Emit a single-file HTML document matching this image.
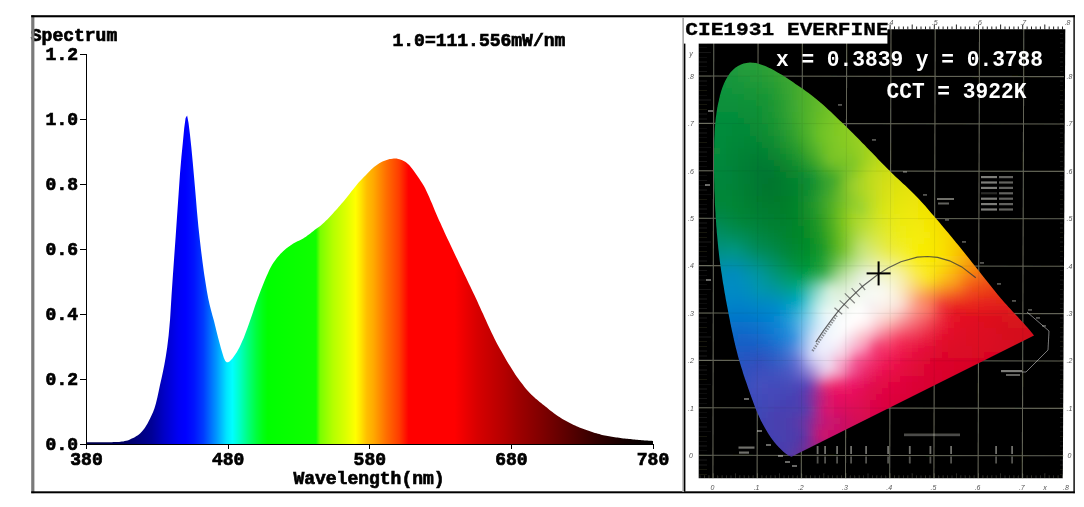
<!DOCTYPE html>
<html><head><meta charset="utf-8"><title>Spectrum</title>
<style>
html,body{margin:0;padding:0;background:#fff;}
body{width:1084px;height:507px;overflow:hidden;position:relative;font-family:"Liberation Mono",monospace;}
svg{position:absolute;left:0;top:0;}
.lbl text{font-family:"Liberation Mono",monospace;font-weight:bold;font-size:18px;fill:#000;stroke:#000;stroke-width:0.7px;}
.ax rect{fill:#000;shape-rendering:crispEdges;}
</style></head><body>
<svg width="1084" height="507" viewBox="0 0 1084 507">
<defs><linearGradient id="sp" gradientUnits="userSpaceOnUse" x1="86.5" y1="0" x2="653.0" y2="0"><stop offset="0.0000" stop-color="#000046"/><stop offset="0.0675" stop-color="#000064"/><stop offset="0.1150" stop-color="#000096"/><stop offset="0.1375" stop-color="#0000c8"/><stop offset="0.1625" stop-color="#0000f5"/><stop offset="0.1750" stop-color="#0000ff"/><stop offset="0.1900" stop-color="#0014ff"/><stop offset="0.2065" stop-color="#003cff"/><stop offset="0.2292" stop-color="#0096ff"/><stop offset="0.2475" stop-color="#00e6ff"/><stop offset="0.2575" stop-color="#00ffff"/><stop offset="0.2700" stop-color="#00ffc8"/><stop offset="0.2842" stop-color="#00ff82"/><stop offset="0.3000" stop-color="#00ff3c"/><stop offset="0.3115" stop-color="#00ff14"/><stop offset="0.3200" stop-color="#00ff00"/><stop offset="0.4050" stop-color="#10ff00"/><stop offset="0.4125" stop-color="#78ff00"/><stop offset="0.4350" stop-color="#b4ff00"/><stop offset="0.4575" stop-color="#dcff00"/><stop offset="0.4750" stop-color="#ffff00"/><stop offset="0.4835" stop-color="#ffe600"/><stop offset="0.4950" stop-color="#ffbe00"/><stop offset="0.5062" stop-color="#ffaa00"/><stop offset="0.5293" stop-color="#ff6e00"/><stop offset="0.5520" stop-color="#ff3c00"/><stop offset="0.5687" stop-color="#ff0000"/><stop offset="0.6500" stop-color="#ff0000"/><stop offset="0.6900" stop-color="#d70000"/><stop offset="0.7375" stop-color="#b40000"/><stop offset="0.7600" stop-color="#a00000"/><stop offset="0.8000" stop-color="#820000"/><stop offset="0.8500" stop-color="#5a0000"/><stop offset="0.9000" stop-color="#320000"/><stop offset="0.9500" stop-color="#140000"/><stop offset="1.0000" stop-color="#000000"/></linearGradient></defs>
<rect x="0" y="0" width="1084" height="507" fill="#fff"/>

<defs>
<clipPath id="hs"><path d="M791.5 456.8 L788.5 455.5 L785.9 453.8 L783.4 451.8 L781.1 449.6 L778.8 447.3 L776.7 445.0 L774.6 442.5 L772.7 440.0 L770.8 437.4 L769.0 434.8 L767.3 432.1 L765.7 429.3 L764.1 426.5 L762.6 423.7 L761.1 420.9 L759.7 418.0 L758.4 415.1 L757.1 412.2 L755.9 409.3 L754.7 406.3 L753.6 403.3 L752.5 400.3 L751.4 397.3 L750.3 394.3 L749.3 391.3 L748.2 388.3 L747.2 385.3 L746.2 382.3 L745.1 379.2 L744.1 376.2 L743.1 373.2 L742.2 370.1 L741.2 367.1 L740.3 364.0 L739.4 361.0 L738.5 357.9 L737.7 354.9 L736.9 351.8 L736.1 348.7 L735.3 345.6 L734.6 342.5 L733.9 339.4 L733.2 336.3 L732.5 333.1 L731.8 330.0 L731.2 326.9 L730.5 323.8 L729.9 320.6 L729.3 317.5 L728.7 314.4 L728.1 311.2 L727.5 308.1 L726.9 305.0 L726.3 301.8 L725.7 298.7 L725.2 295.6 L724.6 292.4 L724.1 289.3 L723.6 286.1 L723.0 283.0 L722.5 279.8 L722.1 276.7 L721.6 273.5 L721.1 270.4 L720.7 267.2 L720.2 264.1 L719.8 260.9 L719.4 257.7 L719.0 254.6 L718.7 251.4 L718.3 248.2 L718.0 245.1 L717.7 241.9 L717.4 238.7 L717.1 235.5 L716.8 232.4 L716.6 229.2 L716.3 226.0 L716.1 222.8 L715.9 219.6 L715.6 216.4 L715.5 213.3 L715.3 210.1 L715.1 206.9 L714.9 203.7 L714.8 200.5 L714.7 197.3 L714.6 194.1 L714.4 191.0 L714.3 187.8 L714.3 184.6 L714.2 181.4 L714.1 178.2 L714.1 175.0 L714.0 171.8 L714.0 168.6 L714.0 165.5 L714.0 162.3 L714.0 159.1 L714.0 155.9 L714.1 152.7 L714.1 149.5 L714.2 146.3 L714.2 143.1 L714.3 139.9 L714.4 136.7 L714.6 133.5 L714.7 130.4 L714.9 127.2 L715.2 124.0 L715.5 120.8 L715.8 117.7 L716.3 114.5 L716.7 111.3 L717.2 108.2 L717.8 105.1 L718.5 101.9 L719.2 98.8 L719.9 95.7 L720.8 92.6 L721.7 89.6 L722.8 86.6 L724.0 83.6 L725.3 80.7 L726.8 77.9 L728.5 75.2 L730.4 72.6 L732.6 70.3 L735.0 68.1 L737.6 66.3 L740.5 64.8 L743.5 63.6 L746.6 62.9 L749.8 62.6 L752.9 62.7 L756.1 63.1 L759.2 63.9 L762.3 65.0 L765.3 66.1 L768.3 67.4 L771.2 68.8 L774.0 70.3 L776.8 71.9 L779.5 73.5 L782.2 75.1 L784.9 76.8 L787.6 78.6 L790.2 80.3 L792.9 82.1 L795.5 83.9 L798.2 85.7 L800.8 87.5 L803.4 89.3 L806.0 91.2 L808.6 93.1 L811.2 95.0 L813.7 96.9 L816.2 98.9 L818.6 100.9 L821.0 103.0 L823.4 105.1 L825.8 107.3 L828.1 109.4 L830.5 111.6 L832.8 113.8 L835.1 116.0 L837.4 118.2 L839.7 120.4 L842.0 122.6 L844.3 124.8 L846.6 127.1 L848.8 129.3 L851.1 131.6 L853.4 133.8 L855.6 136.1 L857.9 138.3 L860.1 140.6 L862.4 142.9 L864.6 145.1 L866.8 147.4 L869.0 149.7 L871.3 152.0 L873.5 154.3 L875.7 156.6 L877.9 158.9 L880.1 161.2 L882.3 163.4 L884.6 165.7 L886.8 168.0 L889.1 170.2 L891.3 172.5 L893.6 174.7 L895.9 176.9 L898.2 179.1 L900.6 181.3 L902.9 183.5 L905.3 185.6 L907.6 187.8 L909.9 190.0 L912.2 192.2 L914.5 194.5 L916.7 196.7 L918.9 199.0 L921.1 201.4 L923.2 203.7 L925.3 206.1 L927.4 208.5 L929.5 210.9 L931.6 213.4 L933.7 215.8 L935.7 218.2 L937.8 220.6 L939.9 223.1 L941.9 225.5 L944.0 227.9 L946.1 230.4 L948.1 232.8 L950.1 235.3 L952.2 237.7 L954.2 240.2 L956.2 242.7 L958.2 245.1 L960.2 247.6 L962.2 250.1 L964.2 252.6 L966.2 255.1 L968.2 257.6 L970.2 260.1 L972.1 262.6 L974.1 265.1 L976.1 267.6 L978.1 270.1 L980.1 272.6 L982.0 275.1 L984.0 277.6 L986.0 280.1 L988.0 282.6 L990.0 285.1 L992.0 287.6 L994.0 290.1 L996.0 292.5 L998.0 295.0 L1000.1 297.4 L1002.1 299.8 L1004.2 302.2 L1006.3 304.6 L1008.5 307.0 L1010.7 309.3 L1012.8 311.7 L1015.0 314.0 L1017.2 316.3 L1019.4 318.7 L1021.5 321.0 L1023.7 323.3 L1025.8 325.7 L1027.9 328.1 L1030.0 330.5 L1032.0 333.0 L1034.0 335.5Z"/></clipPath>
<filter id="bl" filterUnits="userSpaceOnUse" x="680" y="20" width="400" height="470"><feGaussianBlur stdDeviation="3.4"/></filter>
<filter id="soft" filterUnits="userSpaceOnUse" x="680" y="10" width="400" height="490"><feGaussianBlur stdDeviation="0.75"/></filter>
<filter id="soft2" filterUnits="userSpaceOnUse" x="680" y="10" width="400" height="490"><feGaussianBlur stdDeviation="0.45"/></filter>
<style>#cells rect{width:6.5px;height:6.5px}</style>
</defs>
<g id="cie">
<g filter="url(#soft)">
<path d="M698.7 29.2H1065.3L1062.8 478.3H698.7Z" fill="#000"/>
<g fill="#222"><rect x="699.5" y="26.5" width="1" height="3.0"/><rect x="704.0" y="26.5" width="1" height="3.0"/><rect x="708.4" y="26.5" width="1" height="3.0"/><rect x="712.8" y="24.5" width="1" height="5.0"/><rect x="717.2" y="26.5" width="1" height="3.0"/><rect x="721.6" y="26.5" width="1" height="3.0"/><rect x="726.1" y="26.5" width="1" height="3.0"/><rect x="730.5" y="26.5" width="1" height="3.0"/><rect x="734.9" y="24.5" width="1" height="5.0"/><rect x="739.3" y="26.5" width="1" height="3.0"/><rect x="743.7" y="26.5" width="1" height="3.0"/><rect x="748.2" y="26.5" width="1" height="3.0"/><rect x="752.6" y="26.5" width="1" height="3.0"/><rect x="757.0" y="24.5" width="1" height="5.0"/><rect x="761.4" y="26.5" width="1" height="3.0"/><rect x="765.8" y="26.5" width="1" height="3.0"/><rect x="770.3" y="26.5" width="1" height="3.0"/><rect x="774.7" y="26.5" width="1" height="3.0"/><rect x="779.1" y="24.5" width="1" height="5.0"/><rect x="783.5" y="26.5" width="1" height="3.0"/><rect x="787.9" y="26.5" width="1" height="3.0"/><rect x="792.4" y="26.5" width="1" height="3.0"/><rect x="796.8" y="26.5" width="1" height="3.0"/><rect x="801.2" y="24.5" width="1" height="5.0"/><rect x="805.6" y="26.5" width="1" height="3.0"/><rect x="810.0" y="26.5" width="1" height="3.0"/><rect x="814.5" y="26.5" width="1" height="3.0"/><rect x="818.9" y="26.5" width="1" height="3.0"/><rect x="823.3" y="24.5" width="1" height="5.0"/><rect x="827.7" y="26.5" width="1" height="3.0"/><rect x="832.1" y="26.5" width="1" height="3.0"/><rect x="836.6" y="26.5" width="1" height="3.0"/><rect x="841.0" y="26.5" width="1" height="3.0"/><rect x="845.4" y="24.5" width="1" height="5.0"/><rect x="849.8" y="26.5" width="1" height="3.0"/><rect x="854.2" y="26.5" width="1" height="3.0"/><rect x="858.7" y="26.5" width="1" height="3.0"/><rect x="863.1" y="26.5" width="1" height="3.0"/><rect x="867.5" y="24.5" width="1" height="5.0"/><rect x="871.9" y="26.5" width="1" height="3.0"/><rect x="876.3" y="26.5" width="1" height="3.0"/><rect x="880.8" y="26.5" width="1" height="3.0"/><rect x="885.2" y="26.5" width="1" height="3.0"/><rect x="889.6" y="24.5" width="1" height="5.0"/><rect x="894.0" y="26.5" width="1" height="3.0"/><rect x="898.4" y="26.5" width="1" height="3.0"/><rect x="902.9" y="26.5" width="1" height="3.0"/><rect x="907.3" y="26.5" width="1" height="3.0"/><rect x="911.7" y="24.5" width="1" height="5.0"/><rect x="916.1" y="26.5" width="1" height="3.0"/><rect x="920.5" y="26.5" width="1" height="3.0"/><rect x="925.0" y="26.5" width="1" height="3.0"/><rect x="929.4" y="26.5" width="1" height="3.0"/><rect x="933.8" y="24.5" width="1" height="5.0"/><rect x="938.2" y="26.5" width="1" height="3.0"/><rect x="942.6" y="26.5" width="1" height="3.0"/><rect x="947.1" y="26.5" width="1" height="3.0"/><rect x="951.5" y="26.5" width="1" height="3.0"/><rect x="955.9" y="24.5" width="1" height="5.0"/><rect x="960.3" y="26.5" width="1" height="3.0"/><rect x="964.7" y="26.5" width="1" height="3.0"/><rect x="969.2" y="26.5" width="1" height="3.0"/><rect x="973.6" y="26.5" width="1" height="3.0"/><rect x="978.0" y="24.5" width="1" height="5.0"/><rect x="982.4" y="26.5" width="1" height="3.0"/><rect x="986.8" y="26.5" width="1" height="3.0"/><rect x="991.3" y="26.5" width="1" height="3.0"/><rect x="995.7" y="26.5" width="1" height="3.0"/><rect x="1000.1" y="24.5" width="1" height="5.0"/><rect x="1004.5" y="26.5" width="1" height="3.0"/><rect x="1008.9" y="26.5" width="1" height="3.0"/><rect x="1013.4" y="26.5" width="1" height="3.0"/><rect x="1017.8" y="26.5" width="1" height="3.0"/><rect x="1022.2" y="24.5" width="1" height="5.0"/><rect x="1026.6" y="26.5" width="1" height="3.0"/><rect x="1031.0" y="26.5" width="1" height="3.0"/><rect x="1035.5" y="26.5" width="1" height="3.0"/><rect x="1039.9" y="26.5" width="1" height="3.0"/><rect x="1044.3" y="24.5" width="1" height="5.0"/><rect x="1048.7" y="26.5" width="1" height="3.0"/><rect x="1053.1" y="26.5" width="1" height="3.0"/><rect x="1057.6" y="26.5" width="1" height="3.0"/><rect x="1062.0" y="26.5" width="1" height="3.0"/></g>
<g fill="#d8dcc4" opacity="0.22"><rect x="699.5" y="475.3" width="1" height="3.0"/><rect x="704.0" y="475.3" width="1" height="3.0"/><rect x="708.4" y="475.3" width="1" height="3.0"/><rect x="712.8" y="473.3" width="1" height="5.0"/><rect x="717.2" y="475.3" width="1" height="3.0"/><rect x="721.6" y="475.3" width="1" height="3.0"/><rect x="726.1" y="475.3" width="1" height="3.0"/><rect x="730.5" y="475.3" width="1" height="3.0"/><rect x="734.9" y="473.3" width="1" height="5.0"/><rect x="739.3" y="475.3" width="1" height="3.0"/><rect x="743.7" y="475.3" width="1" height="3.0"/><rect x="748.2" y="475.3" width="1" height="3.0"/><rect x="752.6" y="475.3" width="1" height="3.0"/><rect x="757.0" y="473.3" width="1" height="5.0"/><rect x="761.4" y="475.3" width="1" height="3.0"/><rect x="765.8" y="475.3" width="1" height="3.0"/><rect x="770.3" y="475.3" width="1" height="3.0"/><rect x="774.7" y="475.3" width="1" height="3.0"/><rect x="779.1" y="473.3" width="1" height="5.0"/><rect x="783.5" y="475.3" width="1" height="3.0"/><rect x="787.9" y="475.3" width="1" height="3.0"/><rect x="792.4" y="475.3" width="1" height="3.0"/><rect x="796.8" y="475.3" width="1" height="3.0"/><rect x="801.2" y="473.3" width="1" height="5.0"/><rect x="805.6" y="475.3" width="1" height="3.0"/><rect x="810.0" y="475.3" width="1" height="3.0"/><rect x="814.5" y="475.3" width="1" height="3.0"/><rect x="818.9" y="475.3" width="1" height="3.0"/><rect x="823.3" y="473.3" width="1" height="5.0"/><rect x="827.7" y="475.3" width="1" height="3.0"/><rect x="832.1" y="475.3" width="1" height="3.0"/><rect x="836.6" y="475.3" width="1" height="3.0"/><rect x="841.0" y="475.3" width="1" height="3.0"/><rect x="845.4" y="473.3" width="1" height="5.0"/><rect x="849.8" y="475.3" width="1" height="3.0"/><rect x="854.2" y="475.3" width="1" height="3.0"/><rect x="858.7" y="475.3" width="1" height="3.0"/><rect x="863.1" y="475.3" width="1" height="3.0"/><rect x="867.5" y="473.3" width="1" height="5.0"/><rect x="871.9" y="475.3" width="1" height="3.0"/><rect x="876.3" y="475.3" width="1" height="3.0"/><rect x="880.8" y="475.3" width="1" height="3.0"/><rect x="885.2" y="475.3" width="1" height="3.0"/><rect x="889.6" y="473.3" width="1" height="5.0"/><rect x="894.0" y="475.3" width="1" height="3.0"/><rect x="898.4" y="475.3" width="1" height="3.0"/><rect x="902.9" y="475.3" width="1" height="3.0"/><rect x="907.3" y="475.3" width="1" height="3.0"/><rect x="911.7" y="473.3" width="1" height="5.0"/><rect x="916.1" y="475.3" width="1" height="3.0"/><rect x="920.5" y="475.3" width="1" height="3.0"/><rect x="925.0" y="475.3" width="1" height="3.0"/><rect x="929.4" y="475.3" width="1" height="3.0"/><rect x="933.8" y="473.3" width="1" height="5.0"/><rect x="938.2" y="475.3" width="1" height="3.0"/><rect x="942.6" y="475.3" width="1" height="3.0"/><rect x="947.1" y="475.3" width="1" height="3.0"/><rect x="951.5" y="475.3" width="1" height="3.0"/><rect x="955.9" y="473.3" width="1" height="5.0"/><rect x="960.3" y="475.3" width="1" height="3.0"/><rect x="964.7" y="475.3" width="1" height="3.0"/><rect x="969.2" y="475.3" width="1" height="3.0"/><rect x="973.6" y="475.3" width="1" height="3.0"/><rect x="978.0" y="473.3" width="1" height="5.0"/><rect x="982.4" y="475.3" width="1" height="3.0"/><rect x="986.8" y="475.3" width="1" height="3.0"/><rect x="991.3" y="475.3" width="1" height="3.0"/><rect x="995.7" y="475.3" width="1" height="3.0"/><rect x="1000.1" y="473.3" width="1" height="5.0"/><rect x="1004.5" y="475.3" width="1" height="3.0"/><rect x="1008.9" y="475.3" width="1" height="3.0"/><rect x="1013.4" y="475.3" width="1" height="3.0"/><rect x="1017.8" y="475.3" width="1" height="3.0"/><rect x="1022.2" y="473.3" width="1" height="5.0"/><rect x="1026.6" y="475.3" width="1" height="3.0"/><rect x="1031.0" y="475.3" width="1" height="3.0"/><rect x="1035.5" y="475.3" width="1" height="3.0"/><rect x="1039.9" y="475.3" width="1" height="3.0"/><rect x="1044.3" y="473.3" width="1" height="5.0"/><rect x="1048.7" y="475.3" width="1" height="3.0"/><rect x="1053.1" y="475.3" width="1" height="3.0"/><rect x="1057.6" y="475.3" width="1" height="3.0"/><rect x="1062.0" y="475.3" width="1" height="3.0"/><rect x="699" y="473.9" width="8" height="1" opacity="0.45"/><rect x="1060" y="473.9" width="3" height="1" opacity="0.45"/><rect x="699" y="469.1" width="8" height="1" opacity="0.45"/><rect x="1060" y="469.1" width="3" height="1" opacity="0.45"/><rect x="699" y="464.4" width="8" height="1" opacity="0.45"/><rect x="1060" y="464.4" width="3" height="1" opacity="0.45"/><rect x="699" y="459.6" width="8" height="1" opacity="0.45"/><rect x="1060" y="459.6" width="3" height="1" opacity="0.45"/><rect x="699" y="454.9" width="12" height="1" opacity="0.45"/><rect x="1060" y="454.9" width="3" height="1" opacity="0.45"/><rect x="699" y="450.2" width="8" height="1" opacity="0.45"/><rect x="1060" y="450.2" width="3" height="1" opacity="0.45"/><rect x="699" y="445.4" width="8" height="1" opacity="0.45"/><rect x="1060" y="445.4" width="3" height="1" opacity="0.45"/><rect x="699" y="440.7" width="8" height="1" opacity="0.45"/><rect x="1060" y="440.7" width="3" height="1" opacity="0.45"/><rect x="699" y="435.9" width="8" height="1" opacity="0.45"/><rect x="1060" y="435.9" width="3" height="1" opacity="0.45"/><rect x="699" y="431.2" width="12" height="1" opacity="0.45"/><rect x="1060" y="431.2" width="3" height="1" opacity="0.45"/><rect x="699" y="426.5" width="8" height="1" opacity="0.45"/><rect x="1060" y="426.5" width="3" height="1" opacity="0.45"/><rect x="699" y="421.7" width="8" height="1" opacity="0.45"/><rect x="1060" y="421.7" width="3" height="1" opacity="0.45"/><rect x="699" y="417.0" width="8" height="1" opacity="0.45"/><rect x="1060" y="417.0" width="3" height="1" opacity="0.45"/><rect x="699" y="412.2" width="8" height="1" opacity="0.45"/><rect x="1060" y="412.2" width="3" height="1" opacity="0.45"/><rect x="699" y="407.5" width="12" height="1" opacity="0.45"/><rect x="1060" y="407.5" width="3" height="1" opacity="0.45"/><rect x="699" y="402.8" width="8" height="1" opacity="0.45"/><rect x="1060" y="402.8" width="3" height="1" opacity="0.45"/><rect x="699" y="398.0" width="8" height="1" opacity="0.45"/><rect x="1060" y="398.0" width="3" height="1" opacity="0.45"/><rect x="699" y="393.3" width="8" height="1" opacity="0.45"/><rect x="1060" y="393.3" width="3" height="1" opacity="0.45"/><rect x="699" y="388.5" width="8" height="1" opacity="0.45"/><rect x="1060" y="388.5" width="3" height="1" opacity="0.45"/><rect x="699" y="383.8" width="12" height="1" opacity="0.45"/><rect x="1060" y="383.8" width="3" height="1" opacity="0.45"/><rect x="699" y="379.1" width="8" height="1" opacity="0.45"/><rect x="1060" y="379.1" width="3" height="1" opacity="0.45"/><rect x="699" y="374.3" width="8" height="1" opacity="0.45"/><rect x="1060" y="374.3" width="3" height="1" opacity="0.45"/><rect x="699" y="369.6" width="8" height="1" opacity="0.45"/><rect x="1060" y="369.6" width="3" height="1" opacity="0.45"/><rect x="699" y="364.8" width="8" height="1" opacity="0.45"/><rect x="1060" y="364.8" width="3" height="1" opacity="0.45"/><rect x="699" y="360.1" width="12" height="1" opacity="0.45"/><rect x="1060" y="360.1" width="3" height="1" opacity="0.45"/><rect x="699" y="355.4" width="8" height="1" opacity="0.45"/><rect x="1060" y="355.4" width="3" height="1" opacity="0.45"/><rect x="699" y="350.6" width="8" height="1" opacity="0.45"/><rect x="1060" y="350.6" width="3" height="1" opacity="0.45"/><rect x="699" y="345.9" width="8" height="1" opacity="0.45"/><rect x="1060" y="345.9" width="3" height="1" opacity="0.45"/><rect x="699" y="341.1" width="8" height="1" opacity="0.45"/><rect x="1060" y="341.1" width="3" height="1" opacity="0.45"/><rect x="699" y="336.4" width="12" height="1" opacity="0.45"/><rect x="1060" y="336.4" width="3" height="1" opacity="0.45"/><rect x="699" y="331.7" width="8" height="1" opacity="0.45"/><rect x="1060" y="331.7" width="3" height="1" opacity="0.45"/><rect x="699" y="326.9" width="8" height="1" opacity="0.45"/><rect x="1060" y="326.9" width="3" height="1" opacity="0.45"/><rect x="699" y="322.2" width="8" height="1" opacity="0.45"/><rect x="1060" y="322.2" width="3" height="1" opacity="0.45"/><rect x="699" y="317.4" width="8" height="1" opacity="0.45"/><rect x="1060" y="317.4" width="3" height="1" opacity="0.45"/><rect x="699" y="312.7" width="12" height="1" opacity="0.45"/><rect x="1060" y="312.7" width="3" height="1" opacity="0.45"/><rect x="699" y="308.0" width="8" height="1" opacity="0.45"/><rect x="1060" y="308.0" width="3" height="1" opacity="0.45"/><rect x="699" y="303.2" width="8" height="1" opacity="0.45"/><rect x="1060" y="303.2" width="3" height="1" opacity="0.45"/><rect x="699" y="298.5" width="8" height="1" opacity="0.45"/><rect x="1060" y="298.5" width="3" height="1" opacity="0.45"/><rect x="699" y="293.7" width="8" height="1" opacity="0.45"/><rect x="1060" y="293.7" width="3" height="1" opacity="0.45"/><rect x="699" y="289.0" width="12" height="1" opacity="0.45"/><rect x="1060" y="289.0" width="3" height="1" opacity="0.45"/><rect x="699" y="284.3" width="8" height="1" opacity="0.45"/><rect x="1060" y="284.3" width="3" height="1" opacity="0.45"/><rect x="699" y="279.5" width="8" height="1" opacity="0.45"/><rect x="1060" y="279.5" width="3" height="1" opacity="0.45"/><rect x="699" y="274.8" width="8" height="1" opacity="0.45"/><rect x="1060" y="274.8" width="3" height="1" opacity="0.45"/><rect x="699" y="270.0" width="8" height="1" opacity="0.45"/><rect x="1060" y="270.0" width="3" height="1" opacity="0.45"/><rect x="699" y="265.3" width="12" height="1" opacity="0.45"/><rect x="1060" y="265.3" width="3" height="1" opacity="0.45"/><rect x="699" y="260.6" width="8" height="1" opacity="0.45"/><rect x="1060" y="260.6" width="3" height="1" opacity="0.45"/><rect x="699" y="255.8" width="8" height="1" opacity="0.45"/><rect x="1060" y="255.8" width="3" height="1" opacity="0.45"/><rect x="699" y="251.1" width="8" height="1" opacity="0.45"/><rect x="1060" y="251.1" width="3" height="1" opacity="0.45"/><rect x="699" y="246.3" width="8" height="1" opacity="0.45"/><rect x="1060" y="246.3" width="3" height="1" opacity="0.45"/><rect x="699" y="241.6" width="12" height="1" opacity="0.45"/><rect x="1060" y="241.6" width="3" height="1" opacity="0.45"/><rect x="699" y="236.9" width="8" height="1" opacity="0.45"/><rect x="1060" y="236.9" width="3" height="1" opacity="0.45"/><rect x="699" y="232.1" width="8" height="1" opacity="0.45"/><rect x="1060" y="232.1" width="3" height="1" opacity="0.45"/><rect x="699" y="227.4" width="8" height="1" opacity="0.45"/><rect x="1060" y="227.4" width="3" height="1" opacity="0.45"/><rect x="699" y="222.6" width="8" height="1" opacity="0.45"/><rect x="1060" y="222.6" width="3" height="1" opacity="0.45"/><rect x="699" y="217.9" width="12" height="1" opacity="0.45"/><rect x="1060" y="217.9" width="3" height="1" opacity="0.45"/><rect x="699" y="213.2" width="8" height="1" opacity="0.45"/><rect x="1060" y="213.2" width="3" height="1" opacity="0.45"/><rect x="699" y="208.4" width="8" height="1" opacity="0.45"/><rect x="1060" y="208.4" width="3" height="1" opacity="0.45"/><rect x="699" y="203.7" width="8" height="1" opacity="0.45"/><rect x="1060" y="203.7" width="3" height="1" opacity="0.45"/><rect x="699" y="198.9" width="8" height="1" opacity="0.45"/><rect x="1060" y="198.9" width="3" height="1" opacity="0.45"/><rect x="699" y="194.2" width="12" height="1" opacity="0.45"/><rect x="1060" y="194.2" width="3" height="1" opacity="0.45"/><rect x="699" y="189.5" width="8" height="1" opacity="0.45"/><rect x="1060" y="189.5" width="3" height="1" opacity="0.45"/><rect x="699" y="184.7" width="8" height="1" opacity="0.45"/><rect x="1060" y="184.7" width="3" height="1" opacity="0.45"/><rect x="699" y="180.0" width="8" height="1" opacity="0.45"/><rect x="1060" y="180.0" width="3" height="1" opacity="0.45"/><rect x="699" y="175.2" width="8" height="1" opacity="0.45"/><rect x="1060" y="175.2" width="3" height="1" opacity="0.45"/><rect x="699" y="170.5" width="12" height="1" opacity="0.45"/><rect x="1060" y="170.5" width="3" height="1" opacity="0.45"/><rect x="699" y="165.8" width="8" height="1" opacity="0.45"/><rect x="1060" y="165.8" width="3" height="1" opacity="0.45"/><rect x="699" y="161.0" width="8" height="1" opacity="0.45"/><rect x="1060" y="161.0" width="3" height="1" opacity="0.45"/><rect x="699" y="156.3" width="8" height="1" opacity="0.45"/><rect x="1060" y="156.3" width="3" height="1" opacity="0.45"/><rect x="699" y="151.5" width="8" height="1" opacity="0.45"/><rect x="1060" y="151.5" width="3" height="1" opacity="0.45"/><rect x="699" y="146.8" width="12" height="1" opacity="0.45"/><rect x="1060" y="146.8" width="3" height="1" opacity="0.45"/><rect x="699" y="142.1" width="8" height="1" opacity="0.45"/><rect x="1060" y="142.1" width="3" height="1" opacity="0.45"/><rect x="699" y="137.3" width="8" height="1" opacity="0.45"/><rect x="1060" y="137.3" width="3" height="1" opacity="0.45"/><rect x="699" y="132.6" width="8" height="1" opacity="0.45"/><rect x="1060" y="132.6" width="3" height="1" opacity="0.45"/><rect x="699" y="127.8" width="8" height="1" opacity="0.45"/><rect x="1060" y="127.8" width="3" height="1" opacity="0.45"/><rect x="699" y="123.1" width="12" height="1" opacity="0.45"/><rect x="1060" y="123.1" width="3" height="1" opacity="0.45"/><rect x="699" y="118.4" width="8" height="1" opacity="0.45"/><rect x="1060" y="118.4" width="3" height="1" opacity="0.45"/><rect x="699" y="113.6" width="8" height="1" opacity="0.45"/><rect x="1060" y="113.6" width="3" height="1" opacity="0.45"/><rect x="699" y="108.9" width="8" height="1" opacity="0.45"/><rect x="1060" y="108.9" width="3" height="1" opacity="0.45"/><rect x="699" y="104.1" width="8" height="1" opacity="0.45"/><rect x="1060" y="104.1" width="3" height="1" opacity="0.45"/><rect x="699" y="99.4" width="12" height="1" opacity="0.45"/><rect x="1060" y="99.4" width="3" height="1" opacity="0.45"/><rect x="699" y="94.7" width="8" height="1" opacity="0.45"/><rect x="1060" y="94.7" width="3" height="1" opacity="0.45"/><rect x="699" y="89.9" width="8" height="1" opacity="0.45"/><rect x="1060" y="89.9" width="3" height="1" opacity="0.45"/><rect x="699" y="85.2" width="8" height="1" opacity="0.45"/><rect x="1060" y="85.2" width="3" height="1" opacity="0.45"/><rect x="699" y="80.4" width="8" height="1" opacity="0.45"/><rect x="1060" y="80.4" width="3" height="1" opacity="0.45"/><rect x="699" y="75.7" width="12" height="1" opacity="0.45"/><rect x="1060" y="75.7" width="3" height="1" opacity="0.45"/><rect x="699" y="71.0" width="8" height="1" opacity="0.45"/><rect x="1060" y="71.0" width="3" height="1" opacity="0.45"/><rect x="699" y="66.2" width="8" height="1" opacity="0.45"/><rect x="1060" y="66.2" width="3" height="1" opacity="0.45"/><rect x="699" y="61.5" width="8" height="1" opacity="0.45"/><rect x="1060" y="61.5" width="3" height="1" opacity="0.45"/><rect x="699" y="56.7" width="8" height="1" opacity="0.45"/><rect x="1060" y="56.7" width="3" height="1" opacity="0.45"/><rect x="699" y="52.0" width="12" height="1" opacity="0.45"/><rect x="1060" y="52.0" width="3" height="1" opacity="0.45"/><rect x="699" y="47.3" width="8" height="1" opacity="0.45"/><rect x="1060" y="47.3" width="3" height="1" opacity="0.45"/><rect x="699" y="42.5" width="8" height="1" opacity="0.45"/><rect x="1060" y="42.5" width="3" height="1" opacity="0.45"/><rect x="699" y="37.8" width="8" height="1" opacity="0.45"/><rect x="1060" y="37.8" width="3" height="1" opacity="0.45"/><rect x="699" y="33.0" width="8" height="1" opacity="0.45"/><rect x="1060" y="33.0" width="3" height="1" opacity="0.45"/></g>
<g stroke="#c4c8ac" stroke-width="1.1" opacity="0.5"><line x1="713.8" y1="29" x2="712.9" y2="478.3"/><line x1="758.1" y1="29" x2="757.1" y2="478.3"/><line x1="802.4" y1="29" x2="801.3" y2="478.3"/><line x1="846.7" y1="29" x2="845.5" y2="478.3"/><line x1="891.0" y1="29" x2="889.7" y2="478.3"/><line x1="935.2" y1="29" x2="933.9" y2="478.3"/><line x1="979.5" y1="29" x2="978.1" y2="478.3"/><line x1="1023.8" y1="29" x2="1022.3" y2="478.3"/><line x1="698.7" y1="455.2" x2="1064" y2="455.8"/><line x1="698.7" y1="407.8" x2="1064" y2="408.4"/><line x1="698.7" y1="360.4" x2="1064" y2="361.0"/><line x1="698.7" y1="313.0" x2="1064" y2="313.6"/><line x1="698.7" y1="265.6" x2="1064" y2="266.2"/><line x1="698.7" y1="218.2" x2="1064" y2="218.8"/><line x1="698.7" y1="170.8" x2="1064" y2="171.4"/><line x1="698.7" y1="123.4" x2="1064" y2="124.0"/><line x1="698.7" y1="76.0" x2="1064" y2="76.6"/></g>
<g filter="url(#soft)"><g clip-path="url(#hs)"><g id="cells" filter="url(#bl)"><rect x="726" y="52" fill="#1f9b3e"/><rect x="732" y="52" fill="#229c3d"/><rect x="738" y="52" fill="#259d3c"/><rect x="744" y="52" fill="#279e3c"/><rect x="750" y="52" fill="#2a9e3a"/><rect x="756" y="52" fill="#2ca039"/><rect x="762" y="52" fill="#30a137"/><rect x="768" y="52" fill="#33a336"/><rect x="774" y="52" fill="#38a434"/><rect x="720" y="58" fill="#1b993e"/><rect x="726" y="58" fill="#1e9a3d"/><rect x="732" y="58" fill="#219b3d"/><rect x="738" y="58" fill="#259d3c"/><rect x="744" y="58" fill="#289e3b"/><rect x="750" y="58" fill="#299e3a"/><rect x="756" y="58" fill="#2b9f39"/><rect x="762" y="58" fill="#2ea037"/><rect x="768" y="58" fill="#32a236"/><rect x="774" y="58" fill="#36a434"/><rect x="780" y="58" fill="#3ba632"/><rect x="786" y="58" fill="#40a831"/><rect x="714" y="64" fill="#17973e"/><rect x="720" y="64" fill="#19983e"/><rect x="726" y="64" fill="#1c993d"/><rect x="732" y="64" fill="#1f9a3c"/><rect x="738" y="64" fill="#239c3c"/><rect x="744" y="64" fill="#269d3b"/><rect x="750" y="64" fill="#279d3a"/><rect x="756" y="64" fill="#299e38"/><rect x="762" y="64" fill="#2c9f37"/><rect x="768" y="64" fill="#30a135"/><rect x="774" y="64" fill="#34a334"/><rect x="780" y="64" fill="#39a532"/><rect x="786" y="64" fill="#3fa831"/><rect x="792" y="64" fill="#44aa2f"/><rect x="714" y="70" fill="#15963e"/><rect x="720" y="70" fill="#17973d"/><rect x="726" y="70" fill="#1a983d"/><rect x="732" y="70" fill="#1d993c"/><rect x="738" y="70" fill="#209a3b"/><rect x="744" y="70" fill="#229b3a"/><rect x="750" y="70" fill="#249c39"/><rect x="756" y="70" fill="#269d38"/><rect x="762" y="70" fill="#299e36"/><rect x="768" y="70" fill="#2da035"/><rect x="774" y="70" fill="#32a234"/><rect x="780" y="70" fill="#37a432"/><rect x="786" y="70" fill="#3da731"/><rect x="792" y="70" fill="#43aa2f"/><rect x="798" y="70" fill="#4aad2e"/><rect x="804" y="70" fill="#51b02c"/><rect x="708" y="76" fill="#10953f"/><rect x="714" y="76" fill="#12953e"/><rect x="720" y="76" fill="#14963d"/><rect x="726" y="76" fill="#16963c"/><rect x="732" y="76" fill="#19973b"/><rect x="738" y="76" fill="#1c983b"/><rect x="744" y="76" fill="#1e993a"/><rect x="750" y="76" fill="#209a39"/><rect x="756" y="76" fill="#229b37"/><rect x="762" y="76" fill="#269c36"/><rect x="768" y="76" fill="#2a9e35"/><rect x="774" y="76" fill="#2fa133"/><rect x="780" y="76" fill="#35a332"/><rect x="786" y="76" fill="#3ba631"/><rect x="792" y="76" fill="#42aa2f"/><rect x="798" y="76" fill="#49ad2e"/><rect x="804" y="76" fill="#50b02c"/><rect x="810" y="76" fill="#57b32a"/><rect x="708" y="82" fill="#0e933e"/><rect x="714" y="82" fill="#10943d"/><rect x="720" y="82" fill="#11943c"/><rect x="726" y="82" fill="#13953c"/><rect x="732" y="82" fill="#15953b"/><rect x="738" y="82" fill="#17963a"/><rect x="744" y="82" fill="#1a9739"/><rect x="750" y="82" fill="#1c9838"/><rect x="756" y="82" fill="#1e9937"/><rect x="762" y="82" fill="#219a36"/><rect x="768" y="82" fill="#269c34"/><rect x="774" y="82" fill="#2b9f33"/><rect x="780" y="82" fill="#32a232"/><rect x="786" y="82" fill="#39a631"/><rect x="792" y="82" fill="#41a92f"/><rect x="798" y="82" fill="#49ad2e"/><rect x="804" y="82" fill="#50b02c"/><rect x="810" y="82" fill="#58b42a"/><rect x="816" y="82" fill="#5fb729"/><rect x="822" y="82" fill="#66ba27"/><rect x="708" y="88" fill="#0c923e"/><rect x="714" y="88" fill="#0d923d"/><rect x="720" y="88" fill="#0e933c"/><rect x="726" y="88" fill="#10933b"/><rect x="732" y="88" fill="#12943a"/><rect x="738" y="88" fill="#13943a"/><rect x="744" y="88" fill="#159539"/><rect x="750" y="88" fill="#179638"/><rect x="756" y="88" fill="#1a9736"/><rect x="762" y="88" fill="#1d9835"/><rect x="768" y="88" fill="#219a34"/><rect x="774" y="88" fill="#289d33"/><rect x="780" y="88" fill="#30a132"/><rect x="786" y="88" fill="#38a531"/><rect x="792" y="88" fill="#40a92f"/><rect x="798" y="88" fill="#48ad2e"/><rect x="804" y="88" fill="#50b12c"/><rect x="810" y="88" fill="#58b42a"/><rect x="816" y="88" fill="#60b829"/><rect x="822" y="88" fill="#67bb27"/><rect x="828" y="88" fill="#6ebe25"/><rect x="708" y="94" fill="#0a913e"/><rect x="714" y="94" fill="#0a913c"/><rect x="720" y="94" fill="#0b913b"/><rect x="726" y="94" fill="#0d923b"/><rect x="732" y="94" fill="#0e923a"/><rect x="738" y="94" fill="#109239"/><rect x="744" y="94" fill="#129338"/><rect x="750" y="94" fill="#149437"/><rect x="756" y="94" fill="#169436"/><rect x="762" y="94" fill="#189635"/><rect x="768" y="94" fill="#1c9834"/><rect x="774" y="94" fill="#259c33"/><rect x="780" y="94" fill="#2da032"/><rect x="786" y="94" fill="#36a431"/><rect x="792" y="94" fill="#3fa92f"/><rect x="798" y="94" fill="#48ad2e"/><rect x="804" y="94" fill="#50b12c"/><rect x="810" y="94" fill="#59b52a"/><rect x="816" y="94" fill="#61b929"/><rect x="822" y="94" fill="#69bc27"/><rect x="828" y="94" fill="#70bf25"/><rect x="834" y="94" fill="#77c123"/><rect x="702" y="100" fill="#08903f"/><rect x="708" y="100" fill="#08903d"/><rect x="714" y="100" fill="#08903c"/><rect x="720" y="100" fill="#09903b"/><rect x="726" y="100" fill="#0a903b"/><rect x="732" y="100" fill="#0b903a"/><rect x="738" y="100" fill="#0d9139"/><rect x="744" y="100" fill="#0e9138"/><rect x="750" y="100" fill="#109237"/><rect x="756" y="100" fill="#139336"/><rect x="762" y="100" fill="#169435"/><rect x="768" y="100" fill="#1a9633"/><rect x="774" y="100" fill="#239a33"/><rect x="780" y="100" fill="#2c9f32"/><rect x="786" y="100" fill="#35a431"/><rect x="792" y="100" fill="#3fa930"/><rect x="798" y="100" fill="#48ad2e"/><rect x="804" y="100" fill="#51b22c"/><rect x="810" y="100" fill="#5ab62a"/><rect x="816" y="100" fill="#62ba29"/><rect x="822" y="100" fill="#6abd27"/><rect x="828" y="100" fill="#71c025"/><rect x="834" y="100" fill="#78c323"/><rect x="840" y="100" fill="#7fc522"/><rect x="702" y="106" fill="#068f3f"/><rect x="708" y="106" fill="#078f3d"/><rect x="714" y="106" fill="#078f3c"/><rect x="720" y="106" fill="#078f3b"/><rect x="726" y="106" fill="#088f3b"/><rect x="732" y="106" fill="#088f3a"/><rect x="738" y="106" fill="#0a8f39"/><rect x="744" y="106" fill="#0b8f38"/><rect x="750" y="106" fill="#0e9037"/><rect x="756" y="106" fill="#119136"/><rect x="762" y="106" fill="#159335"/><rect x="768" y="106" fill="#1a9634"/><rect x="774" y="106" fill="#229a33"/><rect x="780" y="106" fill="#2b9e32"/><rect x="786" y="106" fill="#35a432"/><rect x="792" y="106" fill="#3ea930"/><rect x="798" y="106" fill="#48ad2e"/><rect x="804" y="106" fill="#51b22c"/><rect x="810" y="106" fill="#5ab72a"/><rect x="816" y="106" fill="#63bb29"/><rect x="822" y="106" fill="#6cbf27"/><rect x="828" y="106" fill="#73c225"/><rect x="834" y="106" fill="#7ac423"/><rect x="840" y="106" fill="#81c622"/><rect x="846" y="106" fill="#87c820"/><rect x="702" y="112" fill="#068e3f"/><rect x="708" y="112" fill="#068e3d"/><rect x="714" y="112" fill="#068e3c"/><rect x="720" y="112" fill="#068d3b"/><rect x="726" y="112" fill="#068d3b"/><rect x="732" y="112" fill="#068d3a"/><rect x="738" y="112" fill="#078d39"/><rect x="744" y="112" fill="#098e38"/><rect x="750" y="112" fill="#0c8f37"/><rect x="756" y="112" fill="#0f9035"/><rect x="762" y="112" fill="#149234"/><rect x="768" y="112" fill="#199533"/><rect x="774" y="112" fill="#219933"/><rect x="780" y="112" fill="#2a9d32"/><rect x="786" y="112" fill="#33a331"/><rect x="792" y="112" fill="#3da82f"/><rect x="798" y="112" fill="#47ad2e"/><rect x="804" y="112" fill="#51b32c"/><rect x="810" y="112" fill="#5bb82a"/><rect x="816" y="112" fill="#65bc28"/><rect x="822" y="112" fill="#6ec027"/><rect x="828" y="112" fill="#75c325"/><rect x="834" y="112" fill="#7cc624"/><rect x="840" y="112" fill="#83c822"/><rect x="846" y="112" fill="#89ca20"/><rect x="852" y="112" fill="#8fcb1f"/><rect x="702" y="118" fill="#058e3f"/><rect x="708" y="118" fill="#058d3d"/><rect x="714" y="118" fill="#058d3c"/><rect x="720" y="118" fill="#058c3b"/><rect x="726" y="118" fill="#058c3a"/><rect x="732" y="118" fill="#048c3a"/><rect x="738" y="118" fill="#058b39"/><rect x="744" y="118" fill="#078c38"/><rect x="750" y="118" fill="#0a8d36"/><rect x="756" y="118" fill="#0e8e35"/><rect x="762" y="118" fill="#129134"/><rect x="768" y="118" fill="#189433"/><rect x="774" y="118" fill="#1f9732"/><rect x="780" y="118" fill="#289c31"/><rect x="786" y="118" fill="#31a130"/><rect x="792" y="118" fill="#3ba72f"/><rect x="798" y="118" fill="#46ad2d"/><rect x="804" y="118" fill="#51b32c"/><rect x="810" y="118" fill="#5cb82a"/><rect x="816" y="118" fill="#67be28"/><rect x="822" y="118" fill="#70c227"/><rect x="828" y="118" fill="#77c525"/><rect x="834" y="118" fill="#7ec724"/><rect x="840" y="118" fill="#84c922"/><rect x="846" y="118" fill="#8acb21"/><rect x="852" y="118" fill="#90cc1f"/><rect x="858" y="118" fill="#96ce1d"/><rect x="702" y="124" fill="#058d3f"/><rect x="708" y="124" fill="#058d3d"/><rect x="714" y="124" fill="#058c3c"/><rect x="720" y="124" fill="#048c3b"/><rect x="726" y="124" fill="#048b3a"/><rect x="732" y="124" fill="#048a39"/><rect x="738" y="124" fill="#048a38"/><rect x="744" y="124" fill="#068a37"/><rect x="750" y="124" fill="#098b36"/><rect x="756" y="124" fill="#0c8d35"/><rect x="762" y="124" fill="#118f34"/><rect x="768" y="124" fill="#169233"/><rect x="774" y="124" fill="#1d9632"/><rect x="780" y="124" fill="#259a31"/><rect x="786" y="124" fill="#2f9f30"/><rect x="792" y="124" fill="#39a52e"/><rect x="798" y="124" fill="#44ac2d"/><rect x="804" y="124" fill="#50b22b"/><rect x="810" y="124" fill="#5db92a"/><rect x="816" y="124" fill="#68bf28"/><rect x="822" y="124" fill="#72c327"/><rect x="828" y="124" fill="#79c625"/><rect x="834" y="124" fill="#80c824"/><rect x="840" y="124" fill="#86ca22"/><rect x="846" y="124" fill="#8bcc21"/><rect x="852" y="124" fill="#91cd1f"/><rect x="858" y="124" fill="#97cf1d"/><rect x="864" y="124" fill="#9dd01c"/><rect x="702" y="130" fill="#058d3e"/><rect x="708" y="130" fill="#058c3d"/><rect x="714" y="130" fill="#058c3c"/><rect x="720" y="130" fill="#048b3b"/><rect x="726" y="130" fill="#048a3a"/><rect x="732" y="130" fill="#048939"/><rect x="738" y="130" fill="#048938"/><rect x="744" y="130" fill="#058937"/><rect x="750" y="130" fill="#078935"/><rect x="756" y="130" fill="#0b8a34"/><rect x="762" y="130" fill="#0f8d33"/><rect x="768" y="130" fill="#148f32"/><rect x="774" y="130" fill="#1a9331"/><rect x="780" y="130" fill="#229830"/><rect x="786" y="130" fill="#2b9d2f"/><rect x="792" y="130" fill="#35a32e"/><rect x="798" y="130" fill="#41aa2c"/><rect x="804" y="130" fill="#4eb12b"/><rect x="810" y="130" fill="#5cb929"/><rect x="816" y="130" fill="#6ac128"/><rect x="822" y="130" fill="#73c527"/><rect x="828" y="130" fill="#7ac725"/><rect x="834" y="130" fill="#80c924"/><rect x="840" y="130" fill="#86cb23"/><rect x="846" y="130" fill="#8ccc21"/><rect x="852" y="130" fill="#92ce20"/><rect x="858" y="130" fill="#98cf1e"/><rect x="864" y="130" fill="#9fd11c"/><rect x="870" y="130" fill="#a5d21a"/><rect x="702" y="136" fill="#058c3e"/><rect x="708" y="136" fill="#068c3d"/><rect x="714" y="136" fill="#058b3c"/><rect x="720" y="136" fill="#058a3a"/><rect x="726" y="136" fill="#048939"/><rect x="732" y="136" fill="#038838"/><rect x="738" y="136" fill="#038737"/><rect x="744" y="136" fill="#048736"/><rect x="750" y="136" fill="#068735"/><rect x="756" y="136" fill="#098834"/><rect x="762" y="136" fill="#0c8a33"/><rect x="768" y="136" fill="#118d32"/><rect x="774" y="136" fill="#179031"/><rect x="780" y="136" fill="#1e9530"/><rect x="786" y="136" fill="#279a2f"/><rect x="792" y="136" fill="#31a02d"/><rect x="798" y="136" fill="#3ca72c"/><rect x="804" y="136" fill="#4aaf2b"/><rect x="810" y="136" fill="#59b729"/><rect x="816" y="136" fill="#68bf28"/><rect x="822" y="136" fill="#72c427"/><rect x="828" y="136" fill="#7ac726"/><rect x="834" y="136" fill="#80c925"/><rect x="840" y="136" fill="#86cb23"/><rect x="846" y="136" fill="#8ccc22"/><rect x="852" y="136" fill="#92ce21"/><rect x="858" y="136" fill="#99d01f"/><rect x="864" y="136" fill="#a0d11d"/><rect x="870" y="136" fill="#a7d31a"/><rect x="876" y="136" fill="#aed418"/><rect x="702" y="142" fill="#068c3e"/><rect x="708" y="142" fill="#068c3d"/><rect x="714" y="142" fill="#068b3b"/><rect x="720" y="142" fill="#058a3a"/><rect x="726" y="142" fill="#048839"/><rect x="732" y="142" fill="#038738"/><rect x="738" y="142" fill="#038637"/><rect x="744" y="142" fill="#038536"/><rect x="750" y="142" fill="#048534"/><rect x="756" y="142" fill="#068533"/><rect x="762" y="142" fill="#098732"/><rect x="768" y="142" fill="#0e8931"/><rect x="774" y="142" fill="#138d30"/><rect x="780" y="142" fill="#1a912f"/><rect x="786" y="142" fill="#21962e"/><rect x="792" y="142" fill="#2a9c2d"/><rect x="798" y="142" fill="#36a32c"/><rect x="804" y="142" fill="#44ab2b"/><rect x="810" y="142" fill="#53b32a"/><rect x="816" y="142" fill="#62bb29"/><rect x="822" y="142" fill="#6fc127"/><rect x="828" y="142" fill="#79c526"/><rect x="834" y="142" fill="#80c825"/><rect x="840" y="142" fill="#85ca24"/><rect x="846" y="142" fill="#8acc23"/><rect x="852" y="142" fill="#91cd22"/><rect x="858" y="142" fill="#98d020"/><rect x="864" y="142" fill="#a0d21d"/><rect x="870" y="142" fill="#a9d41b"/><rect x="876" y="142" fill="#b1d518"/><rect x="882" y="142" fill="#b7d616"/><rect x="702" y="148" fill="#058b3e"/><rect x="708" y="148" fill="#078b3d"/><rect x="714" y="148" fill="#078b3b"/><rect x="720" y="148" fill="#05893a"/><rect x="726" y="148" fill="#038739"/><rect x="732" y="148" fill="#028538"/><rect x="738" y="148" fill="#028436"/><rect x="744" y="148" fill="#028335"/><rect x="750" y="148" fill="#028234"/><rect x="756" y="148" fill="#048233"/><rect x="762" y="148" fill="#068332"/><rect x="768" y="148" fill="#0a8631"/><rect x="774" y="148" fill="#0f8930"/><rect x="780" y="148" fill="#158d2f"/><rect x="786" y="148" fill="#1c922e"/><rect x="792" y="148" fill="#24982d"/><rect x="798" y="148" fill="#2e9e2c"/><rect x="804" y="148" fill="#3ca62c"/><rect x="810" y="148" fill="#4caf2a"/><rect x="816" y="148" fill="#5cb729"/><rect x="822" y="148" fill="#6cbf28"/><rect x="828" y="148" fill="#78c427"/><rect x="834" y="148" fill="#7ec726"/><rect x="840" y="148" fill="#83c925"/><rect x="846" y="148" fill="#87ca24"/><rect x="852" y="148" fill="#8ecd23"/><rect x="858" y="148" fill="#97cf21"/><rect x="864" y="148" fill="#a1d21e"/><rect x="870" y="148" fill="#abd41b"/><rect x="876" y="148" fill="#b4d619"/><rect x="882" y="148" fill="#bbd816"/><rect x="888" y="148" fill="#c1d913"/><rect x="702" y="154" fill="#058b3f"/><rect x="708" y="154" fill="#058a3d"/><rect x="714" y="154" fill="#05893b"/><rect x="720" y="154" fill="#04883a"/><rect x="726" y="154" fill="#038639"/><rect x="732" y="154" fill="#018438"/><rect x="738" y="154" fill="#018236"/><rect x="744" y="154" fill="#008135"/><rect x="750" y="154" fill="#007f33"/><rect x="756" y="154" fill="#017e32"/><rect x="762" y="154" fill="#038031"/><rect x="768" y="154" fill="#078230"/><rect x="774" y="154" fill="#0b8530"/><rect x="780" y="154" fill="#10892f"/><rect x="786" y="154" fill="#168e2e"/><rect x="792" y="154" fill="#1d932e"/><rect x="798" y="154" fill="#27992d"/><rect x="804" y="154" fill="#34a12c"/><rect x="810" y="154" fill="#43a92b"/><rect x="816" y="154" fill="#55b22a"/><rect x="822" y="154" fill="#68bc29"/><rect x="828" y="154" fill="#78c327"/><rect x="834" y="154" fill="#7bc527"/><rect x="840" y="154" fill="#7fc727"/><rect x="846" y="154" fill="#83c826"/><rect x="852" y="154" fill="#8acb24"/><rect x="858" y="154" fill="#96cf22"/><rect x="864" y="154" fill="#a2d21f"/><rect x="870" y="154" fill="#aed61c"/><rect x="876" y="154" fill="#b7d819"/><rect x="882" y="154" fill="#bfd916"/><rect x="888" y="154" fill="#c6da13"/><rect x="894" y="154" fill="#cbdb11"/><rect x="702" y="160" fill="#048a3f"/><rect x="708" y="160" fill="#04893d"/><rect x="714" y="160" fill="#04883c"/><rect x="720" y="160" fill="#03873b"/><rect x="726" y="160" fill="#028539"/><rect x="732" y="160" fill="#018338"/><rect x="738" y="160" fill="#008136"/><rect x="744" y="160" fill="#007f35"/><rect x="750" y="160" fill="#007d33"/><rect x="756" y="160" fill="#007c32"/><rect x="762" y="160" fill="#017d31"/><rect x="768" y="160" fill="#047e30"/><rect x="774" y="160" fill="#08812f"/><rect x="780" y="160" fill="#0c852f"/><rect x="786" y="160" fill="#10892f"/><rect x="792" y="160" fill="#178e2e"/><rect x="798" y="160" fill="#1f942e"/><rect x="804" y="160" fill="#2a9b2d"/><rect x="810" y="160" fill="#38a32c"/><rect x="816" y="160" fill="#4aac2b"/><rect x="822" y="160" fill="#5db62a"/><rect x="828" y="160" fill="#6ebe29"/><rect x="834" y="160" fill="#73c128"/><rect x="840" y="160" fill="#78c328"/><rect x="846" y="160" fill="#7ec628"/><rect x="852" y="160" fill="#84c927"/><rect x="858" y="160" fill="#95ce23"/><rect x="864" y="160" fill="#a6d420"/><rect x="870" y="160" fill="#b3d71c"/><rect x="876" y="160" fill="#bcda19"/><rect x="882" y="160" fill="#c4db16"/><rect x="888" y="160" fill="#cadc13"/><rect x="894" y="160" fill="#cfdc11"/><rect x="900" y="160" fill="#d3dc0e"/><rect x="702" y="166" fill="#04893f"/><rect x="708" y="166" fill="#03883d"/><rect x="714" y="166" fill="#03873c"/><rect x="720" y="166" fill="#02863b"/><rect x="726" y="166" fill="#01843a"/><rect x="732" y="166" fill="#008238"/><rect x="738" y="166" fill="#008036"/><rect x="744" y="166" fill="#007e35"/><rect x="750" y="166" fill="#007c33"/><rect x="756" y="166" fill="#007a32"/><rect x="762" y="166" fill="#007a31"/><rect x="768" y="166" fill="#027b30"/><rect x="774" y="166" fill="#057e2f"/><rect x="780" y="166" fill="#08812f"/><rect x="786" y="166" fill="#0b852f"/><rect x="792" y="166" fill="#108a2f"/><rect x="798" y="166" fill="#158f2f"/><rect x="804" y="166" fill="#1e952f"/><rect x="810" y="166" fill="#2b9c2e"/><rect x="816" y="166" fill="#3ba52d"/><rect x="822" y="166" fill="#4cad2c"/><rect x="828" y="166" fill="#5ab42b"/><rect x="834" y="166" fill="#66ba2a"/><rect x="840" y="166" fill="#72c02a"/><rect x="846" y="166" fill="#7dc529"/><rect x="852" y="166" fill="#89ca27"/><rect x="858" y="166" fill="#9bd024"/><rect x="864" y="166" fill="#acd620"/><rect x="870" y="166" fill="#bada1c"/><rect x="876" y="166" fill="#c2dc19"/><rect x="882" y="166" fill="#c9dd16"/><rect x="888" y="166" fill="#cfde13"/><rect x="894" y="166" fill="#d3de11"/><rect x="900" y="166" fill="#d7de0e"/><rect x="906" y="166" fill="#dadd0c"/><rect x="702" y="172" fill="#03883f"/><rect x="708" y="172" fill="#03883d"/><rect x="714" y="172" fill="#02873c"/><rect x="720" y="172" fill="#01853b"/><rect x="726" y="172" fill="#00843b"/><rect x="732" y="172" fill="#008239"/><rect x="738" y="172" fill="#008036"/><rect x="744" y="172" fill="#007d34"/><rect x="750" y="172" fill="#007b33"/><rect x="756" y="172" fill="#007931"/><rect x="762" y="172" fill="#007830"/><rect x="768" y="172" fill="#007830"/><rect x="774" y="172" fill="#027b2f"/><rect x="780" y="172" fill="#047e2f"/><rect x="786" y="172" fill="#07822f"/><rect x="792" y="172" fill="#09862f"/><rect x="798" y="172" fill="#0d8a30"/><rect x="804" y="172" fill="#128e30"/><rect x="810" y="172" fill="#1d9530"/><rect x="816" y="172" fill="#2d9e2e"/><rect x="822" y="172" fill="#3da62d"/><rect x="828" y="172" fill="#4aac2c"/><rect x="834" y="172" fill="#59b32c"/><rect x="840" y="172" fill="#6ebd2b"/><rect x="846" y="172" fill="#82c52a"/><rect x="852" y="172" fill="#92cc28"/><rect x="858" y="172" fill="#a3d224"/><rect x="864" y="172" fill="#b4d820"/><rect x="870" y="172" fill="#c1dc1c"/><rect x="876" y="172" fill="#c8dd1a"/><rect x="882" y="172" fill="#cede17"/><rect x="888" y="172" fill="#d3df14"/><rect x="894" y="172" fill="#d7df11"/><rect x="900" y="172" fill="#dbdf0e"/><rect x="906" y="172" fill="#dedf0b"/><rect x="912" y="172" fill="#e0de09"/><rect x="702" y="178" fill="#03883f"/><rect x="708" y="178" fill="#03873d"/><rect x="714" y="178" fill="#02863b"/><rect x="720" y="178" fill="#01853b"/><rect x="726" y="178" fill="#00843b"/><rect x="732" y="178" fill="#008239"/><rect x="738" y="178" fill="#008036"/><rect x="744" y="178" fill="#007d34"/><rect x="750" y="178" fill="#007b32"/><rect x="756" y="178" fill="#007931"/><rect x="762" y="178" fill="#007730"/><rect x="768" y="178" fill="#00762f"/><rect x="774" y="178" fill="#01792f"/><rect x="780" y="178" fill="#027c2e"/><rect x="786" y="178" fill="#03802e"/><rect x="792" y="178" fill="#05832f"/><rect x="798" y="178" fill="#078730"/><rect x="804" y="178" fill="#098a31"/><rect x="810" y="178" fill="#139130"/><rect x="816" y="178" fill="#259a2f"/><rect x="822" y="178" fill="#34a12e"/><rect x="828" y="178" fill="#40a72d"/><rect x="834" y="178" fill="#51af2c"/><rect x="840" y="178" fill="#6fbc2c"/><rect x="846" y="178" fill="#89c82b"/><rect x="852" y="178" fill="#9acf29"/><rect x="858" y="178" fill="#a8d426"/><rect x="864" y="178" fill="#b6d921"/><rect x="870" y="178" fill="#c2dc1e"/><rect x="876" y="178" fill="#cbde1a"/><rect x="882" y="178" fill="#d2df17"/><rect x="888" y="178" fill="#d7e014"/><rect x="894" y="178" fill="#dbe111"/><rect x="900" y="178" fill="#dfe10e"/><rect x="906" y="178" fill="#e1e00b"/><rect x="912" y="178" fill="#e4df09"/><rect x="918" y="178" fill="#e5de07"/><rect x="702" y="184" fill="#03873f"/><rect x="708" y="184" fill="#03873c"/><rect x="714" y="184" fill="#03863b"/><rect x="720" y="184" fill="#02853a"/><rect x="726" y="184" fill="#018439"/><rect x="732" y="184" fill="#008237"/><rect x="738" y="184" fill="#008035"/><rect x="744" y="184" fill="#007e33"/><rect x="750" y="184" fill="#007b31"/><rect x="756" y="184" fill="#007930"/><rect x="762" y="184" fill="#00772f"/><rect x="768" y="184" fill="#00772e"/><rect x="774" y="184" fill="#00792e"/><rect x="780" y="184" fill="#017b2e"/><rect x="786" y="184" fill="#027f2e"/><rect x="792" y="184" fill="#04822e"/><rect x="798" y="184" fill="#07862f"/><rect x="804" y="184" fill="#0c8b30"/><rect x="810" y="184" fill="#16912f"/><rect x="816" y="184" fill="#25992f"/><rect x="822" y="184" fill="#34a12e"/><rect x="828" y="184" fill="#43a82d"/><rect x="834" y="184" fill="#58b22c"/><rect x="840" y="184" fill="#72be2c"/><rect x="846" y="184" fill="#8eca2c"/><rect x="852" y="184" fill="#9ed02a"/><rect x="858" y="184" fill="#aad527"/><rect x="864" y="184" fill="#b6d923"/><rect x="870" y="184" fill="#c2dc1f"/><rect x="876" y="184" fill="#ccdf1c"/><rect x="882" y="184" fill="#d5e018"/><rect x="888" y="184" fill="#dae114"/><rect x="894" y="184" fill="#dee211"/><rect x="900" y="184" fill="#e2e20e"/><rect x="906" y="184" fill="#e4e20b"/><rect x="912" y="184" fill="#e6e108"/><rect x="918" y="184" fill="#e8df06"/><rect x="924" y="184" fill="#eadd04"/><rect x="702" y="190" fill="#03873f"/><rect x="708" y="190" fill="#04873c"/><rect x="714" y="190" fill="#04863a"/><rect x="720" y="190" fill="#038639"/><rect x="726" y="190" fill="#038537"/><rect x="732" y="190" fill="#028336"/><rect x="738" y="190" fill="#008134"/><rect x="744" y="190" fill="#007e32"/><rect x="750" y="190" fill="#007c31"/><rect x="756" y="190" fill="#007a30"/><rect x="762" y="190" fill="#00792f"/><rect x="768" y="190" fill="#00782e"/><rect x="774" y="190" fill="#00792d"/><rect x="780" y="190" fill="#007b2d"/><rect x="786" y="190" fill="#027e2d"/><rect x="792" y="190" fill="#04822d"/><rect x="798" y="190" fill="#08862e"/><rect x="804" y="190" fill="#0f8c2e"/><rect x="810" y="190" fill="#1a932e"/><rect x="816" y="190" fill="#299b2e"/><rect x="822" y="190" fill="#38a32d"/><rect x="828" y="190" fill="#49ab2c"/><rect x="834" y="190" fill="#5db42b"/><rect x="840" y="190" fill="#74bf2b"/><rect x="846" y="190" fill="#8ac82b"/><rect x="852" y="190" fill="#9acf2a"/><rect x="858" y="190" fill="#a7d528"/><rect x="864" y="190" fill="#b4d925"/><rect x="870" y="190" fill="#c1dd21"/><rect x="876" y="190" fill="#cddf1d"/><rect x="882" y="190" fill="#d6e119"/><rect x="888" y="190" fill="#dce315"/><rect x="894" y="190" fill="#e1e311"/><rect x="900" y="190" fill="#e4e40e"/><rect x="906" y="190" fill="#e7e30b"/><rect x="912" y="190" fill="#e9e208"/><rect x="918" y="190" fill="#ebe106"/><rect x="924" y="190" fill="#ecdf04"/><rect x="930" y="190" fill="#eddc02"/><rect x="702" y="196" fill="#038740"/><rect x="708" y="196" fill="#04873b"/><rect x="714" y="196" fill="#04863a"/><rect x="720" y="196" fill="#048639"/><rect x="726" y="196" fill="#048637"/><rect x="732" y="196" fill="#038435"/><rect x="738" y="196" fill="#018234"/><rect x="744" y="196" fill="#007f32"/><rect x="750" y="196" fill="#007d31"/><rect x="756" y="196" fill="#007b2f"/><rect x="762" y="196" fill="#007a2e"/><rect x="768" y="196" fill="#00792d"/><rect x="774" y="196" fill="#007a2c"/><rect x="780" y="196" fill="#007c2c"/><rect x="786" y="196" fill="#027f2c"/><rect x="792" y="196" fill="#05832c"/><rect x="798" y="196" fill="#0a872d"/><rect x="804" y="196" fill="#128d2d"/><rect x="810" y="196" fill="#1e952d"/><rect x="816" y="196" fill="#2e9d2d"/><rect x="822" y="196" fill="#3ca52b"/><rect x="828" y="196" fill="#4dad2a"/><rect x="834" y="196" fill="#60b62a"/><rect x="840" y="196" fill="#75c02a"/><rect x="846" y="196" fill="#87c82a"/><rect x="852" y="196" fill="#96cf2b"/><rect x="858" y="196" fill="#a3d42a"/><rect x="864" y="196" fill="#b1d927"/><rect x="870" y="196" fill="#c0dd22"/><rect x="876" y="196" fill="#cde01d"/><rect x="882" y="196" fill="#d7e219"/><rect x="888" y="196" fill="#dee415"/><rect x="894" y="196" fill="#e3e511"/><rect x="900" y="196" fill="#e6e50d"/><rect x="906" y="196" fill="#e9e50a"/><rect x="912" y="196" fill="#ebe408"/><rect x="918" y="196" fill="#ede206"/><rect x="924" y="196" fill="#eee004"/><rect x="930" y="196" fill="#efde02"/><rect x="936" y="196" fill="#efda01"/><rect x="702" y="202" fill="#038744"/><rect x="708" y="202" fill="#038740"/><rect x="714" y="202" fill="#03873e"/><rect x="720" y="202" fill="#03863b"/><rect x="726" y="202" fill="#038639"/><rect x="732" y="202" fill="#028536"/><rect x="738" y="202" fill="#018334"/><rect x="744" y="202" fill="#008133"/><rect x="750" y="202" fill="#007f31"/><rect x="756" y="202" fill="#007d30"/><rect x="762" y="202" fill="#007b2f"/><rect x="768" y="202" fill="#007b2d"/><rect x="774" y="202" fill="#007b2d"/><rect x="780" y="202" fill="#007d2c"/><rect x="786" y="202" fill="#02802c"/><rect x="792" y="202" fill="#05832c"/><rect x="798" y="202" fill="#0b882b"/><rect x="804" y="202" fill="#148e2b"/><rect x="810" y="202" fill="#20952b"/><rect x="816" y="202" fill="#2e9d2b"/><rect x="822" y="202" fill="#3ea629"/><rect x="828" y="202" fill="#50ae28"/><rect x="834" y="202" fill="#63b827"/><rect x="840" y="202" fill="#77c127"/><rect x="846" y="202" fill="#88c929"/><rect x="852" y="202" fill="#94cf2c"/><rect x="858" y="202" fill="#9ed32d"/><rect x="864" y="202" fill="#afd929"/><rect x="870" y="202" fill="#c0de23"/><rect x="876" y="202" fill="#cee21e"/><rect x="882" y="202" fill="#d8e419"/><rect x="888" y="202" fill="#dfe615"/><rect x="894" y="202" fill="#e5e611"/><rect x="900" y="202" fill="#e8e70d"/><rect x="906" y="202" fill="#ebe60a"/><rect x="912" y="202" fill="#ede508"/><rect x="918" y="202" fill="#efe406"/><rect x="924" y="202" fill="#f0e204"/><rect x="930" y="202" fill="#f1df02"/><rect x="936" y="202" fill="#f1dc01"/><rect x="942" y="202" fill="#f1d800"/><rect x="702" y="208" fill="#01884a"/><rect x="708" y="208" fill="#018746"/><rect x="714" y="208" fill="#018743"/><rect x="720" y="208" fill="#018640"/><rect x="726" y="208" fill="#01863c"/><rect x="732" y="208" fill="#018539"/><rect x="738" y="208" fill="#008436"/><rect x="744" y="208" fill="#008234"/><rect x="750" y="208" fill="#008033"/><rect x="756" y="208" fill="#007e31"/><rect x="762" y="208" fill="#007d30"/><rect x="768" y="208" fill="#007d2e"/><rect x="774" y="208" fill="#007d2d"/><rect x="780" y="208" fill="#007e2c"/><rect x="786" y="208" fill="#01802c"/><rect x="792" y="208" fill="#05842b"/><rect x="798" y="208" fill="#0b882a"/><rect x="804" y="208" fill="#138e2a"/><rect x="810" y="208" fill="#1f952a"/><rect x="816" y="208" fill="#2d9d29"/><rect x="822" y="208" fill="#3da527"/><rect x="828" y="208" fill="#50af25"/><rect x="834" y="208" fill="#65b924"/><rect x="840" y="208" fill="#7ac324"/><rect x="846" y="208" fill="#8ecc26"/><rect x="852" y="208" fill="#9bd22b"/><rect x="858" y="208" fill="#9dd430"/><rect x="864" y="208" fill="#b1da2b"/><rect x="870" y="208" fill="#c2df25"/><rect x="876" y="208" fill="#d1e31e"/><rect x="882" y="208" fill="#dbe619"/><rect x="888" y="208" fill="#e2e715"/><rect x="894" y="208" fill="#e7e811"/><rect x="900" y="208" fill="#eae80e"/><rect x="906" y="208" fill="#ede80b"/><rect x="912" y="208" fill="#efe708"/><rect x="918" y="208" fill="#f0e506"/><rect x="924" y="208" fill="#f1e304"/><rect x="930" y="208" fill="#f2e002"/><rect x="936" y="208" fill="#f3dd01"/><rect x="942" y="208" fill="#f3d800"/><rect x="948" y="208" fill="#f3d300"/><rect x="702" y="214" fill="#008952"/><rect x="708" y="214" fill="#00884e"/><rect x="714" y="214" fill="#00884a"/><rect x="720" y="214" fill="#008746"/><rect x="726" y="214" fill="#008742"/><rect x="732" y="214" fill="#00863d"/><rect x="738" y="214" fill="#008539"/><rect x="744" y="214" fill="#008337"/><rect x="750" y="214" fill="#008235"/><rect x="756" y="214" fill="#008034"/><rect x="762" y="214" fill="#007f32"/><rect x="768" y="214" fill="#007e30"/><rect x="774" y="214" fill="#007e2f"/><rect x="780" y="214" fill="#007f2d"/><rect x="786" y="214" fill="#01812c"/><rect x="792" y="214" fill="#04842b"/><rect x="798" y="214" fill="#0a882a"/><rect x="804" y="214" fill="#128d29"/><rect x="810" y="214" fill="#1c9429"/><rect x="816" y="214" fill="#2a9b28"/><rect x="822" y="214" fill="#3ba426"/><rect x="828" y="214" fill="#4faf23"/><rect x="834" y="214" fill="#66ba21"/><rect x="840" y="214" fill="#7dc421"/><rect x="846" y="214" fill="#93ce24"/><rect x="852" y="214" fill="#a7d628"/><rect x="858" y="214" fill="#acd92d"/><rect x="864" y="214" fill="#b8dd2d"/><rect x="870" y="214" fill="#c7e128"/><rect x="876" y="214" fill="#d4e521"/><rect x="882" y="214" fill="#dde71c"/><rect x="888" y="214" fill="#e3e817"/><rect x="894" y="214" fill="#e8e913"/><rect x="900" y="214" fill="#ece90e"/><rect x="906" y="214" fill="#efe90b"/><rect x="912" y="214" fill="#f1e808"/><rect x="918" y="214" fill="#f2e706"/><rect x="924" y="214" fill="#f3e504"/><rect x="930" y="214" fill="#f3e203"/><rect x="936" y="214" fill="#f4de01"/><rect x="942" y="214" fill="#f4d900"/><rect x="948" y="214" fill="#f4d400"/><rect x="702" y="220" fill="#008a59"/><rect x="708" y="220" fill="#008a56"/><rect x="714" y="220" fill="#008952"/><rect x="720" y="220" fill="#00894e"/><rect x="726" y="220" fill="#008949"/><rect x="732" y="220" fill="#008844"/><rect x="738" y="220" fill="#00873d"/><rect x="744" y="220" fill="#00853b"/><rect x="750" y="220" fill="#00843a"/><rect x="756" y="220" fill="#008237"/><rect x="762" y="220" fill="#008135"/><rect x="768" y="220" fill="#008033"/><rect x="774" y="220" fill="#008030"/><rect x="780" y="220" fill="#00802e"/><rect x="786" y="220" fill="#00822d"/><rect x="792" y="220" fill="#03842b"/><rect x="798" y="220" fill="#088829"/><rect x="804" y="220" fill="#0f8d28"/><rect x="810" y="220" fill="#199328"/><rect x="816" y="220" fill="#259927"/><rect x="822" y="220" fill="#38a324"/><rect x="828" y="220" fill="#4dae22"/><rect x="834" y="220" fill="#65ba20"/><rect x="840" y="220" fill="#7dc51e"/><rect x="846" y="220" fill="#93ce25"/><rect x="852" y="220" fill="#a5d62c"/><rect x="858" y="220" fill="#b2db31"/><rect x="864" y="220" fill="#bedf32"/><rect x="870" y="220" fill="#cae32e"/><rect x="876" y="220" fill="#d6e628"/><rect x="882" y="220" fill="#dfe821"/><rect x="888" y="220" fill="#e5e91b"/><rect x="894" y="220" fill="#eaea15"/><rect x="900" y="220" fill="#eeea10"/><rect x="906" y="220" fill="#f0ea0c"/><rect x="912" y="220" fill="#f2ea09"/><rect x="918" y="220" fill="#f3e807"/><rect x="924" y="220" fill="#f4e605"/><rect x="930" y="220" fill="#f4e303"/><rect x="936" y="220" fill="#f5df01"/><rect x="942" y="220" fill="#f5da00"/><rect x="948" y="220" fill="#f5d400"/><rect x="954" y="220" fill="#f5cd00"/><rect x="702" y="226" fill="#008b62"/><rect x="708" y="226" fill="#008b5f"/><rect x="714" y="226" fill="#008b5b"/><rect x="720" y="226" fill="#008b58"/><rect x="726" y="226" fill="#008b53"/><rect x="732" y="226" fill="#008a4e"/><rect x="738" y="226" fill="#008948"/><rect x="744" y="226" fill="#008844"/><rect x="750" y="226" fill="#008640"/><rect x="756" y="226" fill="#00843d"/><rect x="762" y="226" fill="#008339"/><rect x="768" y="226" fill="#008236"/><rect x="774" y="226" fill="#008133"/><rect x="780" y="226" fill="#008230"/><rect x="786" y="226" fill="#00832d"/><rect x="792" y="226" fill="#02852b"/><rect x="798" y="226" fill="#068829"/><rect x="804" y="226" fill="#0d8c28"/><rect x="810" y="226" fill="#169227"/><rect x="816" y="226" fill="#239925"/><rect x="822" y="226" fill="#35a223"/><rect x="828" y="226" fill="#4aad21"/><rect x="834" y="226" fill="#62b820"/><rect x="840" y="226" fill="#7ac423"/><rect x="846" y="226" fill="#91ce2a"/><rect x="852" y="226" fill="#a5d634"/><rect x="858" y="226" fill="#b5dc3a"/><rect x="864" y="226" fill="#c2e13b"/><rect x="870" y="226" fill="#cee437"/><rect x="876" y="226" fill="#d8e730"/><rect x="882" y="226" fill="#e0e928"/><rect x="888" y="226" fill="#e6ea20"/><rect x="894" y="226" fill="#ebeb19"/><rect x="900" y="226" fill="#efeb12"/><rect x="906" y="226" fill="#f1eb0e"/><rect x="912" y="226" fill="#f3eb0a"/><rect x="918" y="226" fill="#f4ea09"/><rect x="924" y="226" fill="#f4e806"/><rect x="930" y="226" fill="#f5e404"/><rect x="936" y="226" fill="#f6e002"/><rect x="942" y="226" fill="#f6da00"/><rect x="948" y="226" fill="#f6d400"/><rect x="954" y="226" fill="#f6cc00"/><rect x="960" y="226" fill="#f6c500"/><rect x="702" y="232" fill="#008c6b"/><rect x="708" y="232" fill="#008d69"/><rect x="714" y="232" fill="#008d66"/><rect x="720" y="232" fill="#008e63"/><rect x="726" y="232" fill="#008e5f"/><rect x="732" y="232" fill="#008d5a"/><rect x="738" y="232" fill="#008c55"/><rect x="744" y="232" fill="#008a4f"/><rect x="750" y="232" fill="#008849"/><rect x="756" y="232" fill="#008644"/><rect x="762" y="232" fill="#00853f"/><rect x="768" y="232" fill="#00843b"/><rect x="774" y="232" fill="#008337"/><rect x="780" y="232" fill="#008333"/><rect x="786" y="232" fill="#00842f"/><rect x="792" y="232" fill="#01852c"/><rect x="798" y="232" fill="#048829"/><rect x="804" y="232" fill="#0a8c28"/><rect x="810" y="232" fill="#129126"/><rect x="816" y="232" fill="#1f9825"/><rect x="822" y="232" fill="#31a123"/><rect x="828" y="232" fill="#46ac22"/><rect x="834" y="232" fill="#5eb722"/><rect x="840" y="232" fill="#77c227"/><rect x="846" y="232" fill="#8fcd32"/><rect x="852" y="232" fill="#a5d63f"/><rect x="858" y="232" fill="#b7dd48"/><rect x="864" y="232" fill="#c6e249"/><rect x="870" y="232" fill="#d1e643"/><rect x="876" y="232" fill="#dae83b"/><rect x="882" y="232" fill="#e2ea30"/><rect x="888" y="232" fill="#e8eb26"/><rect x="894" y="232" fill="#ecec1e"/><rect x="900" y="232" fill="#f0ec16"/><rect x="906" y="232" fill="#f2ec10"/><rect x="912" y="232" fill="#f4ec0c"/><rect x="918" y="232" fill="#f4eb09"/><rect x="924" y="232" fill="#f5e907"/><rect x="930" y="232" fill="#f6e604"/><rect x="936" y="232" fill="#f7e102"/><rect x="942" y="232" fill="#f7db01"/><rect x="948" y="232" fill="#f7d400"/><rect x="954" y="232" fill="#f7cb00"/><rect x="960" y="232" fill="#f6c300"/><rect x="966" y="232" fill="#f6ba00"/><rect x="702" y="238" fill="#008d75"/><rect x="708" y="238" fill="#008e73"/><rect x="714" y="238" fill="#008f71"/><rect x="720" y="238" fill="#00906f"/><rect x="726" y="238" fill="#00916d"/><rect x="732" y="238" fill="#009069"/><rect x="738" y="238" fill="#008f62"/><rect x="744" y="238" fill="#008d5a"/><rect x="750" y="238" fill="#008a52"/><rect x="756" y="238" fill="#00884c"/><rect x="762" y="238" fill="#008746"/><rect x="768" y="238" fill="#008641"/><rect x="774" y="238" fill="#00853c"/><rect x="780" y="238" fill="#008536"/><rect x="786" y="238" fill="#008531"/><rect x="792" y="238" fill="#00862e"/><rect x="798" y="238" fill="#02892b"/><rect x="804" y="238" fill="#068c29"/><rect x="810" y="238" fill="#0e9027"/><rect x="816" y="238" fill="#1a9726"/><rect x="822" y="238" fill="#2c9f25"/><rect x="828" y="238" fill="#43aa23"/><rect x="834" y="238" fill="#5bb623"/><rect x="840" y="238" fill="#75c129"/><rect x="846" y="238" fill="#8fcd39"/><rect x="852" y="238" fill="#a7d74e"/><rect x="858" y="238" fill="#bcdf5c"/><rect x="864" y="238" fill="#c9e45b"/><rect x="870" y="238" fill="#d4e753"/><rect x="876" y="238" fill="#dde947"/><rect x="882" y="238" fill="#e3ea3a"/><rect x="888" y="238" fill="#e9eb2d"/><rect x="894" y="238" fill="#edec24"/><rect x="900" y="238" fill="#f1ed1c"/><rect x="906" y="238" fill="#f3ed13"/><rect x="912" y="238" fill="#f5ed0c"/><rect x="918" y="238" fill="#f6ec07"/><rect x="924" y="238" fill="#f7ea04"/><rect x="930" y="238" fill="#f7e602"/><rect x="936" y="238" fill="#f8e201"/><rect x="942" y="238" fill="#f8db01"/><rect x="948" y="238" fill="#f8d301"/><rect x="954" y="238" fill="#f7ca01"/><rect x="960" y="238" fill="#f7c002"/><rect x="966" y="238" fill="#f6b602"/><rect x="972" y="238" fill="#f5ac02"/><rect x="708" y="244" fill="#008f7e"/><rect x="714" y="244" fill="#00907c"/><rect x="720" y="244" fill="#00917c"/><rect x="726" y="244" fill="#00937c"/><rect x="732" y="244" fill="#009479"/><rect x="738" y="244" fill="#009171"/><rect x="744" y="244" fill="#008f68"/><rect x="750" y="244" fill="#008c5d"/><rect x="756" y="244" fill="#008a54"/><rect x="762" y="244" fill="#00894f"/><rect x="768" y="244" fill="#008849"/><rect x="774" y="244" fill="#008743"/><rect x="780" y="244" fill="#00863c"/><rect x="786" y="244" fill="#008635"/><rect x="792" y="244" fill="#008730"/><rect x="798" y="244" fill="#008a2d"/><rect x="804" y="244" fill="#038c2a"/><rect x="810" y="244" fill="#09902a"/><rect x="816" y="244" fill="#13952a"/><rect x="822" y="244" fill="#279e28"/><rect x="828" y="244" fill="#40aa27"/><rect x="834" y="244" fill="#5ab626"/><rect x="840" y="244" fill="#73c128"/><rect x="846" y="244" fill="#8fcd3f"/><rect x="852" y="244" fill="#aad85b"/><rect x="858" y="244" fill="#c0e16f"/><rect x="864" y="244" fill="#cde66c"/><rect x="870" y="244" fill="#d7e864"/><rect x="876" y="244" fill="#dfea57"/><rect x="882" y="244" fill="#e5eb46"/><rect x="888" y="244" fill="#ebeb36"/><rect x="894" y="244" fill="#efec2e"/><rect x="900" y="244" fill="#f2ed25"/><rect x="906" y="244" fill="#f5ed19"/><rect x="912" y="244" fill="#f6ed0d"/><rect x="918" y="244" fill="#f8ec04"/><rect x="924" y="244" fill="#f8ea01"/><rect x="930" y="244" fill="#f8e701"/><rect x="936" y="244" fill="#f9e201"/><rect x="942" y="244" fill="#f9db02"/><rect x="948" y="244" fill="#f8d203"/><rect x="954" y="244" fill="#f8c803"/><rect x="960" y="244" fill="#f7bc03"/><rect x="966" y="244" fill="#f6b104"/><rect x="972" y="244" fill="#f5a704"/><rect x="978" y="244" fill="#f49d04"/><rect x="708" y="250" fill="#008f89"/><rect x="714" y="250" fill="#009089"/><rect x="720" y="250" fill="#00928a"/><rect x="726" y="250" fill="#00938a"/><rect x="732" y="250" fill="#009488"/><rect x="738" y="250" fill="#009281"/><rect x="744" y="250" fill="#009077"/><rect x="750" y="250" fill="#008e6c"/><rect x="756" y="250" fill="#008d62"/><rect x="762" y="250" fill="#008c5b"/><rect x="768" y="250" fill="#008b54"/><rect x="774" y="250" fill="#008a4b"/><rect x="780" y="250" fill="#008943"/><rect x="786" y="250" fill="#00893b"/><rect x="792" y="250" fill="#008a35"/><rect x="798" y="250" fill="#008c30"/><rect x="804" y="250" fill="#018e2d"/><rect x="810" y="250" fill="#08922c"/><rect x="816" y="250" fill="#13972d"/><rect x="822" y="250" fill="#28a02d"/><rect x="828" y="250" fill="#42ac2e"/><rect x="834" y="250" fill="#5db831"/><rect x="840" y="250" fill="#78c337"/><rect x="846" y="250" fill="#93cf4d"/><rect x="852" y="250" fill="#acda67"/><rect x="858" y="250" fill="#c1e279"/><rect x="864" y="250" fill="#d0e77d"/><rect x="870" y="250" fill="#daea77"/><rect x="876" y="250" fill="#e2ec6b"/><rect x="882" y="250" fill="#e8ec5a"/><rect x="888" y="250" fill="#ecec49"/><rect x="894" y="250" fill="#f0ee40"/><rect x="900" y="250" fill="#f3ee34"/><rect x="906" y="250" fill="#f6ee24"/><rect x="912" y="250" fill="#f8ed10"/><rect x="918" y="250" fill="#f9eb01"/><rect x="924" y="250" fill="#f9ea01"/><rect x="930" y="250" fill="#f9e702"/><rect x="936" y="250" fill="#f9e303"/><rect x="942" y="250" fill="#f9db05"/><rect x="948" y="250" fill="#f9d105"/><rect x="954" y="250" fill="#f8c406"/><rect x="960" y="250" fill="#f8b806"/><rect x="966" y="250" fill="#f7ab06"/><rect x="972" y="250" fill="#f6a006"/><rect x="978" y="250" fill="#f49506"/><rect x="708" y="256" fill="#008f95"/><rect x="714" y="256" fill="#009096"/><rect x="720" y="256" fill="#009198"/><rect x="726" y="256" fill="#009299"/><rect x="732" y="256" fill="#009297"/><rect x="738" y="256" fill="#009190"/><rect x="744" y="256" fill="#009188"/><rect x="750" y="256" fill="#00907e"/><rect x="756" y="256" fill="#009074"/><rect x="762" y="256" fill="#008f6a"/><rect x="768" y="256" fill="#008e60"/><rect x="774" y="256" fill="#008d56"/><rect x="780" y="256" fill="#008d4d"/><rect x="786" y="256" fill="#008c43"/><rect x="792" y="256" fill="#008d3b"/><rect x="798" y="256" fill="#008f35"/><rect x="804" y="256" fill="#009131"/><rect x="810" y="256" fill="#099530"/><rect x="816" y="256" fill="#179b30"/><rect x="822" y="256" fill="#2ca434"/><rect x="828" y="256" fill="#48af3a"/><rect x="834" y="256" fill="#66bc44"/><rect x="840" y="256" fill="#82c852"/><rect x="846" y="256" fill="#9bd465"/><rect x="852" y="256" fill="#b2dd7b"/><rect x="858" y="256" fill="#c6e48b"/><rect x="864" y="256" fill="#d5e992"/><rect x="870" y="256" fill="#dfec8f"/><rect x="876" y="256" fill="#e6ee85"/><rect x="882" y="256" fill="#ebef77"/><rect x="888" y="256" fill="#eeef68"/><rect x="894" y="256" fill="#f1ef5b"/><rect x="900" y="256" fill="#f4ef4a"/><rect x="906" y="256" fill="#f6ee36"/><rect x="912" y="256" fill="#f8ed1f"/><rect x="918" y="256" fill="#faeb0d"/><rect x="924" y="256" fill="#faea07"/><rect x="930" y="256" fill="#fae706"/><rect x="936" y="256" fill="#fae207"/><rect x="942" y="256" fill="#f9db09"/><rect x="948" y="256" fill="#f9ce09"/><rect x="954" y="256" fill="#f9bf09"/><rect x="960" y="256" fill="#f8b109"/><rect x="966" y="256" fill="#f7a309"/><rect x="972" y="256" fill="#f69709"/><rect x="978" y="256" fill="#f48c09"/><rect x="984" y="256" fill="#f28209"/><rect x="708" y="262" fill="#008fa0"/><rect x="714" y="262" fill="#008fa3"/><rect x="720" y="262" fill="#008fa6"/><rect x="726" y="262" fill="#008fa8"/><rect x="732" y="262" fill="#0090a6"/><rect x="738" y="262" fill="#0090a0"/><rect x="744" y="262" fill="#009198"/><rect x="750" y="262" fill="#00928f"/><rect x="756" y="262" fill="#009285"/><rect x="762" y="262" fill="#00927a"/><rect x="768" y="262" fill="#00916e"/><rect x="774" y="262" fill="#009163"/><rect x="780" y="262" fill="#009058"/><rect x="786" y="262" fill="#00914e"/><rect x="792" y="262" fill="#009144"/><rect x="798" y="262" fill="#00933c"/><rect x="804" y="262" fill="#019538"/><rect x="810" y="262" fill="#0c9937"/><rect x="816" y="262" fill="#1b9f37"/><rect x="822" y="262" fill="#32a83c"/><rect x="828" y="262" fill="#52b54a"/><rect x="834" y="262" fill="#73c25a"/><rect x="840" y="262" fill="#90cf6c"/><rect x="846" y="262" fill="#a7da7f"/><rect x="852" y="262" fill="#bde293"/><rect x="858" y="262" fill="#cfe7a4"/><rect x="864" y="262" fill="#dcecac"/><rect x="870" y="262" fill="#e4eea9"/><rect x="876" y="262" fill="#eaf0a1"/><rect x="882" y="262" fill="#edf195"/><rect x="888" y="262" fill="#f0f188"/><rect x="894" y="262" fill="#f3f17a"/><rect x="900" y="262" fill="#f5f066"/><rect x="906" y="262" fill="#f7ef4e"/><rect x="912" y="262" fill="#f9ed34"/><rect x="918" y="262" fill="#faec20"/><rect x="924" y="262" fill="#faea13"/><rect x="930" y="262" fill="#fae50d"/><rect x="936" y="262" fill="#fade0b"/><rect x="942" y="262" fill="#fad50c"/><rect x="948" y="262" fill="#fac70c"/><rect x="954" y="262" fill="#f9b70c"/><rect x="960" y="262" fill="#f8a80c"/><rect x="966" y="262" fill="#f7990c"/><rect x="972" y="262" fill="#f58c0c"/><rect x="978" y="262" fill="#f4810c"/><rect x="984" y="262" fill="#f2780c"/><rect x="990" y="262" fill="#f0700b"/><rect x="708" y="268" fill="#008eaa"/><rect x="714" y="268" fill="#008ead"/><rect x="720" y="268" fill="#008eb1"/><rect x="726" y="268" fill="#008db6"/><rect x="732" y="268" fill="#008db7"/><rect x="738" y="268" fill="#008faf"/><rect x="744" y="268" fill="#0091a6"/><rect x="750" y="268" fill="#00939f"/><rect x="756" y="268" fill="#009596"/><rect x="762" y="268" fill="#009489"/><rect x="768" y="268" fill="#00947c"/><rect x="774" y="268" fill="#009470"/><rect x="780" y="268" fill="#009465"/><rect x="786" y="268" fill="#00955b"/><rect x="792" y="268" fill="#009651"/><rect x="798" y="268" fill="#009747"/><rect x="804" y="268" fill="#059b43"/><rect x="810" y="268" fill="#15a046"/><rect x="816" y="268" fill="#24a545"/><rect x="822" y="268" fill="#39ac48"/><rect x="828" y="268" fill="#62bc5f"/><rect x="834" y="268" fill="#87cb75"/><rect x="840" y="268" fill="#a6d789"/><rect x="846" y="268" fill="#bae09b"/><rect x="852" y="268" fill="#cbe6af"/><rect x="858" y="268" fill="#daebc1"/><rect x="864" y="268" fill="#e5eeca"/><rect x="870" y="268" fill="#eaf1c5"/><rect x="876" y="268" fill="#edf2bc"/><rect x="882" y="268" fill="#f0f3b1"/><rect x="888" y="268" fill="#f2f3a6"/><rect x="894" y="268" fill="#f4f19a"/><rect x="900" y="268" fill="#f5ef85"/><rect x="906" y="268" fill="#f7ed67"/><rect x="912" y="268" fill="#f9eb49"/><rect x="918" y="268" fill="#faea30"/><rect x="924" y="268" fill="#fae81e"/><rect x="930" y="268" fill="#fae213"/><rect x="936" y="268" fill="#fad710"/><rect x="942" y="268" fill="#facb10"/><rect x="948" y="268" fill="#fabd10"/><rect x="954" y="268" fill="#f9ad10"/><rect x="960" y="268" fill="#f89c10"/><rect x="966" y="268" fill="#f78d10"/><rect x="972" y="268" fill="#f57f0f"/><rect x="978" y="268" fill="#f3740f"/><rect x="984" y="268" fill="#f16c0e"/><rect x="990" y="268" fill="#ef650e"/><rect x="996" y="268" fill="#ed5f0d"/><rect x="708" y="274" fill="#008eb2"/><rect x="714" y="274" fill="#008eb5"/><rect x="720" y="274" fill="#008db9"/><rect x="726" y="274" fill="#008cbd"/><rect x="732" y="274" fill="#008cbe"/><rect x="738" y="274" fill="#008fb8"/><rect x="744" y="274" fill="#0091b1"/><rect x="750" y="274" fill="#0094aa"/><rect x="756" y="274" fill="#0095a1"/><rect x="762" y="274" fill="#009695"/><rect x="768" y="274" fill="#009689"/><rect x="774" y="274" fill="#00967e"/><rect x="780" y="274" fill="#009873"/><rect x="786" y="274" fill="#009a6a"/><rect x="792" y="274" fill="#009c63"/><rect x="798" y="274" fill="#059f5d"/><rect x="804" y="274" fill="#14a45e"/><rect x="810" y="274" fill="#2aac64"/><rect x="816" y="274" fill="#40b368"/><rect x="822" y="274" fill="#5abc6f"/><rect x="828" y="274" fill="#7fca82"/><rect x="834" y="274" fill="#a0d694"/><rect x="840" y="274" fill="#b9dfa4"/><rect x="846" y="274" fill="#cae6b5"/><rect x="852" y="274" fill="#d8ebc6"/><rect x="858" y="274" fill="#e4efd8"/><rect x="864" y="274" fill="#edf2e1"/><rect x="870" y="274" fill="#eff3db"/><rect x="876" y="274" fill="#f0f4d2"/><rect x="882" y="274" fill="#f3f5c9"/><rect x="888" y="274" fill="#f4f4be"/><rect x="894" y="274" fill="#f5f1b3"/><rect x="900" y="274" fill="#f6ed9d"/><rect x="906" y="274" fill="#f8e97b"/><rect x="912" y="274" fill="#f9e65b"/><rect x="918" y="274" fill="#fae43f"/><rect x="924" y="274" fill="#fae426"/><rect x="930" y="274" fill="#fadc19"/><rect x="936" y="274" fill="#facc16"/><rect x="942" y="274" fill="#fabe15"/><rect x="948" y="274" fill="#fab115"/><rect x="954" y="274" fill="#f9a115"/><rect x="960" y="274" fill="#f88e14"/><rect x="966" y="274" fill="#f67d14"/><rect x="972" y="274" fill="#f46f13"/><rect x="978" y="274" fill="#f26612"/><rect x="984" y="274" fill="#ef5e11"/><rect x="990" y="274" fill="#ed5810"/><rect x="996" y="274" fill="#eb5310"/><rect x="1002" y="274" fill="#e9500f"/><rect x="708" y="280" fill="#008db8"/><rect x="714" y="280" fill="#008dbb"/><rect x="720" y="280" fill="#008dbe"/><rect x="726" y="280" fill="#008cc1"/><rect x="732" y="280" fill="#008cc0"/><rect x="738" y="280" fill="#008ebd"/><rect x="744" y="280" fill="#0090b7"/><rect x="750" y="280" fill="#0093b0"/><rect x="756" y="280" fill="#0095a8"/><rect x="762" y="280" fill="#00969f"/><rect x="768" y="280" fill="#009696"/><rect x="774" y="280" fill="#00988c"/><rect x="780" y="280" fill="#009a83"/><rect x="786" y="280" fill="#009e7a"/><rect x="792" y="280" fill="#04a179"/><rect x="798" y="280" fill="#11a77b"/><rect x="804" y="280" fill="#29b081"/><rect x="810" y="280" fill="#48bb8c"/><rect x="816" y="280" fill="#68c699"/><rect x="822" y="280" fill="#88d1a2"/><rect x="828" y="280" fill="#a7dbac"/><rect x="834" y="280" fill="#bbe2b5"/><rect x="840" y="280" fill="#cbe7be"/><rect x="846" y="280" fill="#d7ecc9"/><rect x="852" y="280" fill="#e1efd6"/><rect x="858" y="280" fill="#eaf3e3"/><rect x="864" y="280" fill="#eff5e9"/><rect x="870" y="280" fill="#f1f6e8"/><rect x="876" y="280" fill="#f2f6e3"/><rect x="882" y="280" fill="#f5f6db"/><rect x="888" y="280" fill="#f6f5cf"/><rect x="894" y="280" fill="#f7f1be"/><rect x="900" y="280" fill="#f8eaa8"/><rect x="906" y="280" fill="#f9e38a"/><rect x="912" y="280" fill="#f9dc6a"/><rect x="918" y="280" fill="#fad74c"/><rect x="924" y="280" fill="#f9d432"/><rect x="930" y="280" fill="#f9ca23"/><rect x="936" y="280" fill="#f9b91e"/><rect x="942" y="280" fill="#f9ab1c"/><rect x="948" y="280" fill="#f9a01b"/><rect x="954" y="280" fill="#f9931b"/><rect x="960" y="280" fill="#f77d19"/><rect x="966" y="280" fill="#f56917"/><rect x="972" y="280" fill="#f35e16"/><rect x="978" y="280" fill="#f05615"/><rect x="984" y="280" fill="#ee5014"/><rect x="990" y="280" fill="#eb4b13"/><rect x="996" y="280" fill="#e94812"/><rect x="1002" y="280" fill="#e84512"/><rect x="708" y="286" fill="#008cbd"/><rect x="714" y="286" fill="#008cc0"/><rect x="720" y="286" fill="#008cc2"/><rect x="726" y="286" fill="#008bc3"/><rect x="732" y="286" fill="#008bc3"/><rect x="738" y="286" fill="#008cc0"/><rect x="744" y="286" fill="#008ebc"/><rect x="750" y="286" fill="#0091b6"/><rect x="756" y="286" fill="#0095af"/><rect x="762" y="286" fill="#0095a9"/><rect x="768" y="286" fill="#0095a3"/><rect x="774" y="286" fill="#00979c"/><rect x="780" y="286" fill="#009b95"/><rect x="786" y="286" fill="#009f90"/><rect x="792" y="286" fill="#04a591"/><rect x="798" y="286" fill="#18ad97"/><rect x="804" y="286" fill="#3bb9a2"/><rect x="810" y="286" fill="#65c8b0"/><rect x="816" y="286" fill="#89d5be"/><rect x="822" y="286" fill="#aee2ca"/><rect x="828" y="286" fill="#d0ecd4"/><rect x="834" y="286" fill="#d3ecd0"/><rect x="840" y="286" fill="#d9eed2"/><rect x="846" y="286" fill="#e1f0d9"/><rect x="852" y="286" fill="#e9f3e2"/><rect x="858" y="286" fill="#eff6ea"/><rect x="864" y="286" fill="#f3f7ef"/><rect x="870" y="286" fill="#f5f8f0"/><rect x="876" y="286" fill="#f6f8ee"/><rect x="882" y="286" fill="#f8f8e9"/><rect x="888" y="286" fill="#f9f5db"/><rect x="894" y="286" fill="#f9efc9"/><rect x="900" y="286" fill="#f9e5b2"/><rect x="906" y="286" fill="#f9d995"/><rect x="912" y="286" fill="#facd77"/><rect x="918" y="286" fill="#fac25a"/><rect x="924" y="286" fill="#f9b843"/><rect x="930" y="286" fill="#f8ac32"/><rect x="936" y="286" fill="#f89c29"/><rect x="942" y="286" fill="#f78f24"/><rect x="948" y="286" fill="#f78520"/><rect x="954" y="286" fill="#f6791e"/><rect x="960" y="286" fill="#f4671c"/><rect x="966" y="286" fill="#f2571a"/><rect x="972" y="286" fill="#f04d18"/><rect x="978" y="286" fill="#ee4717"/><rect x="984" y="286" fill="#eb4216"/><rect x="990" y="286" fill="#e93e15"/><rect x="996" y="286" fill="#e73c15"/><rect x="1002" y="286" fill="#e63a14"/><rect x="1008" y="286" fill="#e43913"/><rect x="714" y="292" fill="#008ac3"/><rect x="720" y="292" fill="#0089c4"/><rect x="726" y="292" fill="#0089c5"/><rect x="732" y="292" fill="#0089c5"/><rect x="738" y="292" fill="#0089c3"/><rect x="744" y="292" fill="#008bc0"/><rect x="750" y="292" fill="#008ebc"/><rect x="756" y="292" fill="#0090b7"/><rect x="762" y="292" fill="#0091b3"/><rect x="768" y="292" fill="#0092b0"/><rect x="774" y="292" fill="#0095ac"/><rect x="780" y="292" fill="#0099a8"/><rect x="786" y="292" fill="#009ea6"/><rect x="792" y="292" fill="#00a5a9"/><rect x="798" y="292" fill="#16b0b0"/><rect x="804" y="292" fill="#44c0ba"/><rect x="810" y="292" fill="#74d0c6"/><rect x="816" y="292" fill="#9dded2"/><rect x="822" y="292" fill="#c0eadc"/><rect x="828" y="292" fill="#d8f1e1"/><rect x="834" y="292" fill="#def1de"/><rect x="840" y="292" fill="#e1f1dd"/><rect x="846" y="292" fill="#e9f3e3"/><rect x="852" y="292" fill="#eff6ea"/><rect x="858" y="292" fill="#f3f8f0"/><rect x="864" y="292" fill="#f5f9f3"/><rect x="870" y="292" fill="#f8faf4"/><rect x="876" y="292" fill="#f9f9f2"/><rect x="882" y="292" fill="#faf7ed"/><rect x="888" y="292" fill="#faf3e2"/><rect x="894" y="292" fill="#faecd2"/><rect x="900" y="292" fill="#fadfbb"/><rect x="906" y="292" fill="#face9f"/><rect x="912" y="292" fill="#faba80"/><rect x="918" y="292" fill="#faa965"/><rect x="924" y="292" fill="#f99d50"/><rect x="930" y="292" fill="#f78d3f"/><rect x="936" y="292" fill="#f57b33"/><rect x="942" y="292" fill="#f46d2a"/><rect x="948" y="292" fill="#f36424"/><rect x="954" y="292" fill="#f15a20"/><rect x="960" y="292" fill="#f04f1d"/><rect x="966" y="292" fill="#ef451b"/><rect x="972" y="292" fill="#ed3d1a"/><rect x="978" y="292" fill="#eb3819"/><rect x="984" y="292" fill="#e93418"/><rect x="990" y="292" fill="#e73218"/><rect x="996" y="292" fill="#e53017"/><rect x="1002" y="292" fill="#e33016"/><rect x="1008" y="292" fill="#e23016"/><rect x="1014" y="292" fill="#e03015"/><rect x="714" y="298" fill="#0087c5"/><rect x="720" y="298" fill="#0086c6"/><rect x="726" y="298" fill="#0085c7"/><rect x="732" y="298" fill="#0085c7"/><rect x="738" y="298" fill="#0085c6"/><rect x="744" y="298" fill="#0087c4"/><rect x="750" y="298" fill="#0089c2"/><rect x="756" y="298" fill="#008bbf"/><rect x="762" y="298" fill="#008cbe"/><rect x="768" y="298" fill="#008ebd"/><rect x="774" y="298" fill="#0091bb"/><rect x="780" y="298" fill="#0097b9"/><rect x="786" y="298" fill="#009eb9"/><rect x="792" y="298" fill="#02a5bd"/><rect x="798" y="298" fill="#19b2c4"/><rect x="804" y="298" fill="#4fc4cc"/><rect x="810" y="298" fill="#83d7d5"/><rect x="816" y="298" fill="#ade5de"/><rect x="822" y="298" fill="#cbeee5"/><rect x="828" y="298" fill="#dcf3e7"/><rect x="834" y="298" fill="#e3f4e5"/><rect x="840" y="298" fill="#e5f3e4"/><rect x="846" y="298" fill="#eff5eb"/><rect x="852" y="298" fill="#f5faf1"/><rect x="858" y="298" fill="#f7faf5"/><rect x="864" y="298" fill="#f7f6f4"/><rect x="870" y="298" fill="#f7f5f2"/><rect x="876" y="298" fill="#f9f5f0"/><rect x="882" y="298" fill="#faf3eb"/><rect x="888" y="298" fill="#faefe3"/><rect x="894" y="298" fill="#fae8d9"/><rect x="900" y="298" fill="#fad9c4"/><rect x="906" y="298" fill="#fac2a5"/><rect x="912" y="298" fill="#faaa87"/><rect x="918" y="298" fill="#fa936c"/><rect x="924" y="298" fill="#f9885b"/><rect x="930" y="298" fill="#f6744a"/><rect x="936" y="298" fill="#f3593b"/><rect x="942" y="298" fill="#f04b2f"/><rect x="948" y="298" fill="#ee4427"/><rect x="954" y="298" fill="#ed3d21"/><rect x="960" y="298" fill="#ec381e"/><rect x="966" y="298" fill="#eb321d"/><rect x="972" y="298" fill="#e92e1c"/><rect x="978" y="298" fill="#e82a1b"/><rect x="984" y="298" fill="#e6271a"/><rect x="990" y="298" fill="#e4251a"/><rect x="996" y="298" fill="#e22619"/><rect x="1002" y="298" fill="#e12718"/><rect x="1008" y="298" fill="#df2818"/><rect x="1014" y="298" fill="#de2817"/><rect x="1020" y="298" fill="#dd2916"/><rect x="714" y="304" fill="#0283c6"/><rect x="720" y="304" fill="#0282c7"/><rect x="726" y="304" fill="#0181c8"/><rect x="732" y="304" fill="#0180c8"/><rect x="738" y="304" fill="#0080c8"/><rect x="744" y="304" fill="#0081c7"/><rect x="750" y="304" fill="#0083c6"/><rect x="756" y="304" fill="#0085c5"/><rect x="762" y="304" fill="#0087c6"/><rect x="768" y="304" fill="#0089c7"/><rect x="774" y="304" fill="#018dc8"/><rect x="780" y="304" fill="#0395c6"/><rect x="786" y="304" fill="#0a9ec7"/><rect x="792" y="304" fill="#17a8cb"/><rect x="798" y="304" fill="#34b7d1"/><rect x="804" y="304" fill="#61c9d8"/><rect x="810" y="304" fill="#94dce0"/><rect x="816" y="304" fill="#bbe9e8"/><rect x="822" y="304" fill="#d7f2ed"/><rect x="828" y="304" fill="#e4f6ed"/><rect x="834" y="304" fill="#ebf7ee"/><rect x="840" y="304" fill="#eff7ef"/><rect x="846" y="304" fill="#f5f9f4"/><rect x="852" y="304" fill="#fafcf8"/><rect x="858" y="304" fill="#fbfcfa"/><rect x="864" y="304" fill="#f8f5f5"/><rect x="870" y="304" fill="#f7f0ef"/><rect x="876" y="304" fill="#f9efeb"/><rect x="882" y="304" fill="#faece5"/><rect x="888" y="304" fill="#fae6de"/><rect x="894" y="304" fill="#faded6"/><rect x="900" y="304" fill="#facec3"/><rect x="906" y="304" fill="#fab5a5"/><rect x="912" y="304" fill="#fa9e8b"/><rect x="918" y="304" fill="#fa8c75"/><rect x="924" y="304" fill="#f97f65"/><rect x="930" y="304" fill="#f66654"/><rect x="936" y="304" fill="#f04241"/><rect x="942" y="304" fill="#ed3333"/><rect x="948" y="304" fill="#ea2a28"/><rect x="954" y="304" fill="#e82422"/><rect x="960" y="304" fill="#e8241f"/><rect x="966" y="304" fill="#e7231e"/><rect x="972" y="304" fill="#e6201d"/><rect x="978" y="304" fill="#e51e1d"/><rect x="984" y="304" fill="#e31a1c"/><rect x="990" y="304" fill="#e11a1c"/><rect x="996" y="304" fill="#e01c1b"/><rect x="1002" y="304" fill="#de1e1a"/><rect x="1008" y="304" fill="#dd2019"/><rect x="1014" y="304" fill="#dc2219"/><rect x="1020" y="304" fill="#db2318"/><rect x="1026" y="304" fill="#da2418"/><rect x="714" y="310" fill="#037fc7"/><rect x="720" y="310" fill="#037dc8"/><rect x="726" y="310" fill="#037cc9"/><rect x="732" y="310" fill="#037cc9"/><rect x="738" y="310" fill="#027cc9"/><rect x="744" y="310" fill="#027cc9"/><rect x="750" y="310" fill="#017ec9"/><rect x="756" y="310" fill="#0180ca"/><rect x="762" y="310" fill="#0183cb"/><rect x="768" y="310" fill="#0286cc"/><rect x="774" y="310" fill="#058bce"/><rect x="780" y="310" fill="#0b93cf"/><rect x="786" y="310" fill="#169dd1"/><rect x="792" y="310" fill="#2aaad5"/><rect x="798" y="310" fill="#48b9db"/><rect x="804" y="310" fill="#71cbe1"/><rect x="810" y="310" fill="#9edce9"/><rect x="816" y="310" fill="#c6ebf0"/><rect x="822" y="310" fill="#e7f7f7"/><rect x="828" y="310" fill="#eef8f6"/><rect x="834" y="310" fill="#f2f9f6"/><rect x="840" y="310" fill="#f6f9f7"/><rect x="846" y="310" fill="#fafcfa"/><rect x="852" y="310" fill="#fefefd"/><rect x="858" y="310" fill="#fefdfd"/><rect x="864" y="310" fill="#fcf6f6"/><rect x="870" y="310" fill="#faeeed"/><rect x="876" y="310" fill="#fae7e4"/><rect x="882" y="310" fill="#fae1db"/><rect x="888" y="310" fill="#fad8d1"/><rect x="894" y="310" fill="#facbc5"/><rect x="900" y="310" fill="#f9b8b3"/><rect x="906" y="310" fill="#f9a39d"/><rect x="912" y="310" fill="#f98f87"/><rect x="918" y="310" fill="#f87f75"/><rect x="924" y="310" fill="#f87267"/><rect x="930" y="310" fill="#f55b57"/><rect x="936" y="310" fill="#f03e44"/><rect x="942" y="310" fill="#eb2a35"/><rect x="948" y="310" fill="#e71d2a"/><rect x="954" y="310" fill="#e51623"/><rect x="960" y="310" fill="#e51720"/><rect x="966" y="310" fill="#e4171f"/><rect x="972" y="310" fill="#e3171e"/><rect x="978" y="310" fill="#e2151e"/><rect x="984" y="310" fill="#e0131e"/><rect x="990" y="310" fill="#df131d"/><rect x="996" y="310" fill="#dd151c"/><rect x="1002" y="310" fill="#dc181c"/><rect x="1008" y="310" fill="#db1a1b"/><rect x="1014" y="310" fill="#da1c1b"/><rect x="1020" y="310" fill="#d91d1a"/><rect x="1026" y="310" fill="#d81e1a"/><rect x="1032" y="310" fill="#d81f19"/><rect x="714" y="316" fill="#057ac8"/><rect x="720" y="316" fill="#0678c9"/><rect x="726" y="316" fill="#0677c9"/><rect x="732" y="316" fill="#0676ca"/><rect x="738" y="316" fill="#0576ca"/><rect x="744" y="316" fill="#0577ca"/><rect x="750" y="316" fill="#0478cb"/><rect x="756" y="316" fill="#047bcc"/><rect x="762" y="316" fill="#047ecd"/><rect x="768" y="316" fill="#0682cf"/><rect x="774" y="316" fill="#0a88d1"/><rect x="780" y="316" fill="#1291d4"/><rect x="786" y="316" fill="#209bd7"/><rect x="792" y="316" fill="#37a9db"/><rect x="798" y="316" fill="#57b9e1"/><rect x="804" y="316" fill="#7ecbe8"/><rect x="810" y="316" fill="#a6dcee"/><rect x="816" y="316" fill="#caeaf5"/><rect x="822" y="316" fill="#e4f3f9"/><rect x="828" y="316" fill="#edf6fa"/><rect x="834" y="316" fill="#f5fafb"/><rect x="840" y="316" fill="#fafcfc"/><rect x="846" y="316" fill="#fdfdfd"/><rect x="852" y="316" fill="#fffdfd"/><rect x="858" y="316" fill="#fffafa"/><rect x="864" y="316" fill="#fef4f4"/><rect x="870" y="316" fill="#fce6e7"/><rect x="876" y="316" fill="#fbd9d9"/><rect x="882" y="316" fill="#fad0cc"/><rect x="888" y="316" fill="#fac7bf"/><rect x="894" y="316" fill="#f9b2b0"/><rect x="900" y="316" fill="#f89fa1"/><rect x="906" y="316" fill="#f88c8f"/><rect x="912" y="316" fill="#f77a7e"/><rect x="918" y="316" fill="#f66b6e"/><rect x="924" y="316" fill="#f45c60"/><rect x="930" y="316" fill="#f14a51"/><rect x="936" y="316" fill="#ed3543"/><rect x="942" y="316" fill="#ea2436"/><rect x="948" y="316" fill="#e6182c"/><rect x="954" y="316" fill="#e41226"/><rect x="960" y="316" fill="#e31122"/><rect x="966" y="316" fill="#e21120"/><rect x="972" y="316" fill="#e11120"/><rect x="978" y="316" fill="#e0101f"/><rect x="984" y="316" fill="#df0f1f"/><rect x="990" y="316" fill="#dd101e"/><rect x="996" y="316" fill="#dc111e"/><rect x="1002" y="316" fill="#da131d"/><rect x="1008" y="316" fill="#d9151c"/><rect x="1014" y="316" fill="#d8171c"/><rect x="1020" y="316" fill="#d7181c"/><rect x="1026" y="316" fill="#d6191b"/><rect x="1032" y="316" fill="#d61a1b"/><rect x="1038" y="316" fill="#d51b1a"/><rect x="714" y="322" fill="#0875c8"/><rect x="720" y="322" fill="#0873c8"/><rect x="726" y="322" fill="#0972c9"/><rect x="732" y="322" fill="#0971c9"/><rect x="738" y="322" fill="#0970ca"/><rect x="744" y="322" fill="#0971ca"/><rect x="750" y="322" fill="#0873cb"/><rect x="756" y="322" fill="#0875cd"/><rect x="762" y="322" fill="#0879ce"/><rect x="768" y="322" fill="#097ed1"/><rect x="774" y="322" fill="#0e84d3"/><rect x="780" y="322" fill="#178cd6"/><rect x="786" y="322" fill="#2697da"/><rect x="792" y="322" fill="#3ea5df"/><rect x="798" y="322" fill="#60b6e5"/><rect x="804" y="322" fill="#88c9eb"/><rect x="810" y="322" fill="#afdbf2"/><rect x="816" y="322" fill="#cfe9f7"/><rect x="822" y="322" fill="#e4f2fa"/><rect x="828" y="322" fill="#eff7fb"/><rect x="834" y="322" fill="#f6fafc"/><rect x="840" y="322" fill="#fcfdfe"/><rect x="846" y="322" fill="#fefdfd"/><rect x="852" y="322" fill="#fff6f7"/><rect x="858" y="322" fill="#feeff1"/><rect x="864" y="322" fill="#fde6ea"/><rect x="870" y="322" fill="#fcd4da"/><rect x="876" y="322" fill="#fac3c9"/><rect x="882" y="322" fill="#fab5b9"/><rect x="888" y="322" fill="#f9a6a9"/><rect x="894" y="322" fill="#f8939b"/><rect x="900" y="322" fill="#f7818c"/><rect x="906" y="322" fill="#f6717e"/><rect x="912" y="322" fill="#f56370"/><rect x="918" y="322" fill="#f35663"/><rect x="924" y="322" fill="#f14857"/><rect x="930" y="322" fill="#ee394a"/><rect x="936" y="322" fill="#eb2a3e"/><rect x="942" y="322" fill="#e81d34"/><rect x="948" y="322" fill="#e5152c"/><rect x="954" y="322" fill="#e31027"/><rect x="960" y="322" fill="#e20e24"/><rect x="966" y="322" fill="#e10e22"/><rect x="972" y="322" fill="#e00e21"/><rect x="978" y="322" fill="#df0e20"/><rect x="984" y="322" fill="#de0e1f"/><rect x="990" y="322" fill="#dc0e1f"/><rect x="996" y="322" fill="#da0f1e"/><rect x="1002" y="322" fill="#d8101e"/><rect x="1008" y="322" fill="#d7121d"/><rect x="1014" y="322" fill="#d7131d"/><rect x="1020" y="322" fill="#d6141d"/><rect x="1026" y="322" fill="#d5151d"/><rect x="1032" y="322" fill="#d4161d"/><rect x="1038" y="322" fill="#d3171c"/><rect x="720" y="328" fill="#0b6ec8"/><rect x="726" y="328" fill="#0c6dc8"/><rect x="732" y="328" fill="#0d6bc9"/><rect x="738" y="328" fill="#0d6ac9"/><rect x="744" y="328" fill="#0d6bca"/><rect x="750" y="328" fill="#0d6dcb"/><rect x="756" y="328" fill="#0c70cc"/><rect x="762" y="328" fill="#0c74ce"/><rect x="768" y="328" fill="#0d79d1"/><rect x="774" y="328" fill="#127fd4"/><rect x="780" y="328" fill="#1b87d7"/><rect x="786" y="328" fill="#2891db"/><rect x="792" y="328" fill="#3f9fe0"/><rect x="798" y="328" fill="#65b2e7"/><rect x="804" y="328" fill="#92c8ed"/><rect x="810" y="328" fill="#badbf4"/><rect x="816" y="328" fill="#d7e9f9"/><rect x="822" y="328" fill="#e8f2fc"/><rect x="828" y="328" fill="#f1f7fc"/><rect x="834" y="328" fill="#f7fafc"/><rect x="840" y="328" fill="#fbfafc"/><rect x="846" y="328" fill="#fcf2f6"/><rect x="852" y="328" fill="#fce7ec"/><rect x="858" y="328" fill="#fcdbe1"/><rect x="864" y="328" fill="#fcced8"/><rect x="870" y="328" fill="#fabac8"/><rect x="876" y="328" fill="#f9a4b4"/><rect x="882" y="328" fill="#f892a3"/><rect x="888" y="328" fill="#f88193"/><rect x="894" y="328" fill="#f77084"/><rect x="900" y="328" fill="#f66177"/><rect x="906" y="328" fill="#f4556c"/><rect x="912" y="328" fill="#f24b62"/><rect x="918" y="328" fill="#f04057"/><rect x="924" y="328" fill="#ee354d"/><rect x="930" y="328" fill="#eb2a42"/><rect x="936" y="328" fill="#e81f38"/><rect x="942" y="328" fill="#e61731"/><rect x="948" y="328" fill="#e3112b"/><rect x="954" y="328" fill="#e20e27"/><rect x="960" y="328" fill="#e00d25"/><rect x="966" y="328" fill="#e00d23"/><rect x="972" y="328" fill="#df0d22"/><rect x="978" y="328" fill="#de0d21"/><rect x="984" y="328" fill="#dd0d20"/><rect x="990" y="328" fill="#db0c20"/><rect x="996" y="328" fill="#d90d1f"/><rect x="1002" y="328" fill="#d70d1f"/><rect x="1008" y="328" fill="#d60e1e"/><rect x="1014" y="328" fill="#d50f1e"/><rect x="1020" y="328" fill="#d5101e"/><rect x="1026" y="328" fill="#d4111e"/><rect x="1032" y="328" fill="#d2121e"/><rect x="1038" y="328" fill="#d2131d"/><rect x="720" y="334" fill="#0f6ac7"/><rect x="726" y="334" fill="#1068c7"/><rect x="732" y="334" fill="#1166c7"/><rect x="738" y="334" fill="#1364c8"/><rect x="744" y="334" fill="#1365c8"/><rect x="750" y="334" fill="#1267c9"/><rect x="756" y="334" fill="#1269cb"/><rect x="762" y="334" fill="#126ecd"/><rect x="768" y="334" fill="#1273cf"/><rect x="774" y="334" fill="#167ad3"/><rect x="780" y="334" fill="#1f81d6"/><rect x="786" y="334" fill="#2c8adb"/><rect x="792" y="334" fill="#3b95e0"/><rect x="798" y="334" fill="#6aade7"/><rect x="804" y="334" fill="#9ec7ee"/><rect x="810" y="334" fill="#c5dbf5"/><rect x="816" y="334" fill="#e2eafa"/><rect x="822" y="334" fill="#edf2fd"/><rect x="828" y="334" fill="#f4f6fd"/><rect x="834" y="334" fill="#f8f8fd"/><rect x="840" y="334" fill="#faf2f8"/><rect x="846" y="334" fill="#f8e3ed"/><rect x="852" y="334" fill="#f9d4df"/><rect x="858" y="334" fill="#fac2cd"/><rect x="864" y="334" fill="#fab2c4"/><rect x="870" y="334" fill="#f897b2"/><rect x="876" y="334" fill="#f67d9b"/><rect x="882" y="334" fill="#f66d8c"/><rect x="888" y="334" fill="#f65e7d"/><rect x="894" y="334" fill="#f64c6d"/><rect x="900" y="334" fill="#f44061"/><rect x="906" y="334" fill="#f23b5b"/><rect x="912" y="334" fill="#ef3454"/><rect x="918" y="334" fill="#ed2d4c"/><rect x="924" y="334" fill="#ea2543"/><rect x="930" y="334" fill="#e81d3a"/><rect x="936" y="334" fill="#e51531"/><rect x="942" y="334" fill="#e3102c"/><rect x="948" y="334" fill="#e10d29"/><rect x="954" y="334" fill="#e00c27"/><rect x="960" y="334" fill="#df0c25"/><rect x="966" y="334" fill="#de0c24"/><rect x="972" y="334" fill="#de0d23"/><rect x="978" y="334" fill="#dd0e22"/><rect x="984" y="334" fill="#dc0c21"/><rect x="990" y="334" fill="#da0b20"/><rect x="996" y="334" fill="#d80b20"/><rect x="1002" y="334" fill="#d70b1f"/><rect x="1008" y="334" fill="#d60c1f"/><rect x="1014" y="334" fill="#d50c1f"/><rect x="1020" y="334" fill="#d40d1f"/><rect x="1026" y="334" fill="#d30e1e"/><rect x="1032" y="334" fill="#d20f1e"/><rect x="1038" y="334" fill="#d2101d"/><rect x="720" y="340" fill="#1266c6"/><rect x="726" y="340" fill="#1463c6"/><rect x="732" y="340" fill="#1662c6"/><rect x="738" y="340" fill="#1760c6"/><rect x="744" y="340" fill="#1860c6"/><rect x="750" y="340" fill="#1861c7"/><rect x="756" y="340" fill="#1863c8"/><rect x="762" y="340" fill="#1967ca"/><rect x="768" y="340" fill="#1a6ccd"/><rect x="774" y="340" fill="#1e73d0"/><rect x="780" y="340" fill="#277ad4"/><rect x="786" y="340" fill="#3684d9"/><rect x="792" y="340" fill="#4d93e0"/><rect x="798" y="340" fill="#75aae7"/><rect x="804" y="340" fill="#a4c4ef"/><rect x="810" y="340" fill="#cbdbf6"/><rect x="816" y="340" fill="#e6ebfb"/><rect x="822" y="340" fill="#eff2fd"/><rect x="828" y="340" fill="#f3f2fc"/><rect x="834" y="340" fill="#f6eff8"/><rect x="840" y="340" fill="#f8e4f0"/><rect x="846" y="340" fill="#f6d3e3"/><rect x="852" y="340" fill="#f8c0d5"/><rect x="858" y="340" fill="#f9adc5"/><rect x="864" y="340" fill="#f996b5"/><rect x="870" y="340" fill="#f46b94"/><rect x="876" y="340" fill="#f3537f"/><rect x="882" y="340" fill="#f54c77"/><rect x="888" y="340" fill="#f5426c"/><rect x="894" y="340" fill="#f4335e"/><rect x="900" y="340" fill="#f22a54"/><rect x="906" y="340" fill="#ef264f"/><rect x="912" y="340" fill="#ec2249"/><rect x="918" y="340" fill="#e91d43"/><rect x="924" y="340" fill="#e7183c"/><rect x="930" y="340" fill="#e51335"/><rect x="936" y="340" fill="#e30d2e"/><rect x="942" y="340" fill="#e10b2a"/><rect x="948" y="340" fill="#e00b28"/><rect x="954" y="340" fill="#de0b27"/><rect x="960" y="340" fill="#dd0b26"/><rect x="966" y="340" fill="#dd0c24"/><rect x="972" y="340" fill="#dd0c23"/><rect x="978" y="340" fill="#dc0d23"/><rect x="984" y="340" fill="#db0b22"/><rect x="990" y="340" fill="#d90a21"/><rect x="996" y="340" fill="#d80920"/><rect x="1002" y="340" fill="#d60920"/><rect x="1008" y="340" fill="#d50920"/><rect x="1014" y="340" fill="#d40a1f"/><rect x="1020" y="340" fill="#d30a1f"/><rect x="1026" y="340" fill="#d30b1f"/><rect x="1032" y="340" fill="#d20c1e"/><rect x="1038" y="340" fill="#d20d1e"/><rect x="720" y="346" fill="#1662c5"/><rect x="726" y="346" fill="#1860c5"/><rect x="732" y="346" fill="#1a5ec5"/><rect x="738" y="346" fill="#1c5cc5"/><rect x="744" y="346" fill="#1e5bc4"/><rect x="750" y="346" fill="#1f5bc4"/><rect x="756" y="346" fill="#205dc5"/><rect x="762" y="346" fill="#2160c7"/><rect x="768" y="346" fill="#2365ca"/><rect x="774" y="346" fill="#276ccd"/><rect x="780" y="346" fill="#3173d1"/><rect x="786" y="346" fill="#417ed7"/><rect x="792" y="346" fill="#5a8dde"/><rect x="798" y="346" fill="#7fa4e6"/><rect x="804" y="346" fill="#aac1f0"/><rect x="810" y="346" fill="#d0daf7"/><rect x="816" y="346" fill="#e9eafb"/><rect x="822" y="346" fill="#eeeefc"/><rect x="828" y="346" fill="#edebf9"/><rect x="834" y="346" fill="#f4e3f1"/><rect x="840" y="346" fill="#f7d7e8"/><rect x="846" y="346" fill="#f8c1d8"/><rect x="852" y="346" fill="#f9a8c7"/><rect x="858" y="346" fill="#f994bb"/><rect x="864" y="346" fill="#f876a3"/><rect x="870" y="346" fill="#f54c83"/><rect x="876" y="346" fill="#f3386f"/><rect x="882" y="346" fill="#f43669"/><rect x="888" y="346" fill="#f43262"/><rect x="894" y="346" fill="#f22757"/><rect x="900" y="346" fill="#ef1f4e"/><rect x="906" y="346" fill="#ec1a47"/><rect x="912" y="346" fill="#e91542"/><rect x="918" y="346" fill="#e6103c"/><rect x="924" y="346" fill="#e40e37"/><rect x="930" y="346" fill="#e20c32"/><rect x="936" y="346" fill="#e1092d"/><rect x="942" y="346" fill="#df082a"/><rect x="948" y="346" fill="#de0928"/><rect x="954" y="346" fill="#dc0a28"/><rect x="960" y="346" fill="#dc0b26"/><rect x="966" y="346" fill="#dc0a25"/><rect x="972" y="346" fill="#db0a24"/><rect x="978" y="346" fill="#db0a23"/><rect x="984" y="346" fill="#da0922"/><rect x="990" y="346" fill="#d80821"/><rect x="996" y="346" fill="#d70721"/><rect x="1002" y="346" fill="#d60720"/><rect x="1008" y="346" fill="#d50720"/><rect x="1014" y="346" fill="#d40720"/><rect x="1020" y="346" fill="#d3081f"/><rect x="1026" y="346" fill="#d2081f"/><rect x="1032" y="346" fill="#d2091e"/><rect x="1038" y="346" fill="#d20a1e"/><rect x="720" y="352" fill="#195ec4"/><rect x="726" y="352" fill="#1c5cc4"/><rect x="732" y="352" fill="#1e5ac3"/><rect x="738" y="352" fill="#2158c3"/><rect x="744" y="352" fill="#2457c2"/><rect x="750" y="352" fill="#2656c2"/><rect x="756" y="352" fill="#2856c2"/><rect x="762" y="352" fill="#295ac3"/><rect x="768" y="352" fill="#2b5fc6"/><rect x="774" y="352" fill="#2f64c9"/><rect x="780" y="352" fill="#386bcd"/><rect x="786" y="352" fill="#4774d2"/><rect x="792" y="352" fill="#5f81d9"/><rect x="798" y="352" fill="#8298e2"/><rect x="804" y="352" fill="#aebaee"/><rect x="810" y="352" fill="#d4d8f7"/><rect x="816" y="352" fill="#e3e1f8"/><rect x="822" y="352" fill="#ebe5f7"/><rect x="828" y="352" fill="#efdef1"/><rect x="834" y="352" fill="#f4d0e5"/><rect x="840" y="352" fill="#f8cade"/><rect x="846" y="352" fill="#f8aac9"/><rect x="852" y="352" fill="#f881ae"/><rect x="858" y="352" fill="#f76c9f"/><rect x="864" y="352" fill="#f6568e"/><rect x="870" y="352" fill="#f43d79"/><rect x="876" y="352" fill="#f22d69"/><rect x="882" y="352" fill="#f22861"/><rect x="888" y="352" fill="#f12359"/><rect x="894" y="352" fill="#ef1d51"/><rect x="900" y="352" fill="#ec1749"/><rect x="906" y="352" fill="#e91243"/><rect x="912" y="352" fill="#e60e3d"/><rect x="918" y="352" fill="#e40b38"/><rect x="924" y="352" fill="#e20934"/><rect x="930" y="352" fill="#e00830"/><rect x="936" y="352" fill="#df072d"/><rect x="942" y="352" fill="#dd062a"/><rect x="948" y="352" fill="#dc0728"/><rect x="954" y="352" fill="#db0827"/><rect x="960" y="352" fill="#db0826"/><rect x="966" y="352" fill="#da0825"/><rect x="972" y="352" fill="#da0724"/><rect x="978" y="352" fill="#d90723"/><rect x="984" y="352" fill="#d90622"/><rect x="990" y="352" fill="#d80522"/><rect x="996" y="352" fill="#d60521"/><rect x="1002" y="352" fill="#d50521"/><rect x="1008" y="352" fill="#d40520"/><rect x="1014" y="352" fill="#d40520"/><rect x="1020" y="352" fill="#d3051f"/><rect x="1026" y="352" fill="#d2061f"/><rect x="726" y="358" fill="#2059c3"/><rect x="732" y="358" fill="#2357c2"/><rect x="738" y="358" fill="#2655c1"/><rect x="744" y="358" fill="#2953c0"/><rect x="750" y="358" fill="#2d52bf"/><rect x="756" y="358" fill="#3150be"/><rect x="762" y="358" fill="#3154c0"/><rect x="768" y="358" fill="#3259c3"/><rect x="774" y="358" fill="#355ec5"/><rect x="780" y="358" fill="#3c63c8"/><rect x="786" y="358" fill="#4a6acd"/><rect x="792" y="358" fill="#5e72d3"/><rect x="798" y="358" fill="#7c85db"/><rect x="804" y="358" fill="#a6a9e7"/><rect x="810" y="358" fill="#c6c2ed"/><rect x="816" y="358" fill="#d9d1f0"/><rect x="822" y="358" fill="#e7daf1"/><rect x="828" y="358" fill="#f0d3e9"/><rect x="834" y="358" fill="#f4b4d4"/><rect x="840" y="358" fill="#f6a7c9"/><rect x="846" y="358" fill="#f585b3"/><rect x="852" y="358" fill="#f35a96"/><rect x="858" y="358" fill="#f34d8a"/><rect x="864" y="358" fill="#f2407e"/><rect x="870" y="358" fill="#f1316f"/><rect x="876" y="358" fill="#f02563"/><rect x="882" y="358" fill="#ef1e59"/><rect x="888" y="358" fill="#ee1952"/><rect x="894" y="358" fill="#ec154b"/><rect x="900" y="358" fill="#e91145"/><rect x="906" y="358" fill="#e70e40"/><rect x="912" y="358" fill="#e40b3b"/><rect x="918" y="358" fill="#e10937"/><rect x="924" y="358" fill="#e00733"/><rect x="930" y="358" fill="#de052f"/><rect x="936" y="358" fill="#dd042c"/><rect x="942" y="358" fill="#dc042a"/><rect x="948" y="358" fill="#db0429"/><rect x="954" y="358" fill="#da0527"/><rect x="960" y="358" fill="#da0526"/><rect x="966" y="358" fill="#d90525"/><rect x="972" y="358" fill="#d90424"/><rect x="978" y="358" fill="#d80423"/><rect x="984" y="358" fill="#d70323"/><rect x="990" y="358" fill="#d70322"/><rect x="996" y="358" fill="#d60221"/><rect x="1002" y="358" fill="#d50221"/><rect x="1008" y="358" fill="#d40220"/><rect x="1014" y="358" fill="#d30320"/><rect x="726" y="364" fill="#2357c2"/><rect x="732" y="364" fill="#2755c1"/><rect x="738" y="364" fill="#2b53c0"/><rect x="744" y="364" fill="#2e51bf"/><rect x="750" y="364" fill="#3250be"/><rect x="756" y="364" fill="#354fbe"/><rect x="762" y="364" fill="#3751bf"/><rect x="768" y="364" fill="#3854c0"/><rect x="774" y="364" fill="#3b58c2"/><rect x="780" y="364" fill="#415cc5"/><rect x="786" y="364" fill="#4c61c8"/><rect x="792" y="364" fill="#5d69cd"/><rect x="798" y="364" fill="#7679d4"/><rect x="804" y="364" fill="#9692dc"/><rect x="810" y="364" fill="#b5a9e2"/><rect x="816" y="364" fill="#d1bfe8"/><rect x="822" y="364" fill="#e5d0ec"/><rect x="828" y="364" fill="#f0d0e7"/><rect x="834" y="364" fill="#f3b1d0"/><rect x="840" y="364" fill="#f496be"/><rect x="846" y="364" fill="#f270a6"/><rect x="852" y="364" fill="#f05392"/><rect x="858" y="364" fill="#ef3f80"/><rect x="864" y="364" fill="#ef3172"/><rect x="870" y="364" fill="#ee2666"/><rect x="876" y="364" fill="#ed1d5b"/><rect x="882" y="364" fill="#ec1753"/><rect x="888" y="364" fill="#eb124c"/><rect x="894" y="364" fill="#e90f47"/><rect x="900" y="364" fill="#e60c42"/><rect x="906" y="364" fill="#e40b3d"/><rect x="912" y="364" fill="#e10939"/><rect x="918" y="364" fill="#df0836"/><rect x="924" y="364" fill="#dd0632"/><rect x="930" y="364" fill="#dc042f"/><rect x="936" y="364" fill="#dc032c"/><rect x="942" y="364" fill="#db022a"/><rect x="948" y="364" fill="#da0229"/><rect x="954" y="364" fill="#d90227"/><rect x="960" y="364" fill="#d90226"/><rect x="966" y="364" fill="#d80225"/><rect x="972" y="364" fill="#d80124"/><rect x="978" y="364" fill="#d70124"/><rect x="984" y="364" fill="#d70123"/><rect x="990" y="364" fill="#d60022"/><rect x="996" y="364" fill="#d50022"/><rect x="1002" y="364" fill="#d40021"/><rect x="726" y="370" fill="#2655c1"/><rect x="732" y="370" fill="#2a53c0"/><rect x="738" y="370" fill="#2e52c0"/><rect x="744" y="370" fill="#3350bf"/><rect x="750" y="370" fill="#374fbe"/><rect x="756" y="370" fill="#3a4fbe"/><rect x="762" y="370" fill="#3c50be"/><rect x="768" y="370" fill="#3d51bf"/><rect x="774" y="370" fill="#3f53c0"/><rect x="780" y="370" fill="#4456c1"/><rect x="786" y="370" fill="#4c59c4"/><rect x="792" y="370" fill="#5860c7"/><rect x="798" y="370" fill="#6b6acc"/><rect x="804" y="370" fill="#867ad0"/><rect x="810" y="370" fill="#a78ed4"/><rect x="816" y="370" fill="#caa5da"/><rect x="822" y="370" fill="#e6b7dd"/><rect x="828" y="370" fill="#f0abce"/><rect x="834" y="370" fill="#f397be"/><rect x="840" y="370" fill="#f284b2"/><rect x="846" y="370" fill="#f15c98"/><rect x="852" y="370" fill="#ef4486"/><rect x="858" y="370" fill="#ed3276"/><rect x="864" y="370" fill="#eb2668"/><rect x="870" y="370" fill="#ea1d5d"/><rect x="876" y="370" fill="#e91654"/><rect x="882" y="370" fill="#e9114d"/><rect x="888" y="370" fill="#e70d47"/><rect x="894" y="370" fill="#e60b43"/><rect x="900" y="370" fill="#e4093f"/><rect x="906" y="370" fill="#e1083b"/><rect x="912" y="370" fill="#df0938"/><rect x="918" y="370" fill="#dc0936"/><rect x="924" y="370" fill="#db0532"/><rect x="930" y="370" fill="#db032f"/><rect x="936" y="370" fill="#da012d"/><rect x="942" y="370" fill="#da002a"/><rect x="948" y="370" fill="#d90029"/><rect x="954" y="370" fill="#d80027"/><rect x="960" y="370" fill="#d80026"/><rect x="966" y="370" fill="#d70025"/><rect x="972" y="370" fill="#d70025"/><rect x="978" y="370" fill="#d60024"/><rect x="984" y="370" fill="#d60023"/><rect x="990" y="370" fill="#d50022"/><rect x="732" y="376" fill="#2d52c0"/><rect x="738" y="376" fill="#3251bf"/><rect x="744" y="376" fill="#3650be"/><rect x="750" y="376" fill="#3b4fbe"/><rect x="756" y="376" fill="#3f4fbe"/><rect x="762" y="376" fill="#404fbd"/><rect x="768" y="376" fill="#404fbd"/><rect x="774" y="376" fill="#424fbd"/><rect x="780" y="376" fill="#4550be"/><rect x="786" y="376" fill="#4a52be"/><rect x="792" y="376" fill="#5254c1"/><rect x="798" y="376" fill="#5d59c3"/><rect x="804" y="376" fill="#7360c3"/><rect x="810" y="376" fill="#976bc1"/><rect x="816" y="376" fill="#c279bd"/><rect x="822" y="376" fill="#e480b7"/><rect x="828" y="376" fill="#ef70a5"/><rect x="834" y="376" fill="#f25f98"/><rect x="840" y="376" fill="#f14f8f"/><rect x="846" y="376" fill="#f0347f"/><rect x="852" y="376" fill="#ed2974"/><rect x="858" y="376" fill="#ea2269"/><rect x="864" y="376" fill="#e71a5e"/><rect x="870" y="376" fill="#e61454"/><rect x="876" y="376" fill="#e6104d"/><rect x="882" y="376" fill="#e50c48"/><rect x="888" y="376" fill="#e50943"/><rect x="894" y="376" fill="#e30740"/><rect x="900" y="376" fill="#e1063d"/><rect x="906" y="376" fill="#df063a"/><rect x="912" y="376" fill="#dd0637"/><rect x="918" y="376" fill="#db0635"/><rect x="924" y="376" fill="#da0432"/><rect x="930" y="376" fill="#da012f"/><rect x="936" y="376" fill="#d9002d"/><rect x="942" y="376" fill="#d9002b"/><rect x="948" y="376" fill="#d80029"/><rect x="954" y="376" fill="#d80028"/><rect x="960" y="376" fill="#d70027"/><rect x="966" y="376" fill="#d70026"/><rect x="972" y="376" fill="#d60025"/><rect x="978" y="376" fill="#d60024"/><rect x="732" y="382" fill="#3051bf"/><rect x="738" y="382" fill="#3450be"/><rect x="744" y="382" fill="#394fbe"/><rect x="750" y="382" fill="#3e4fbe"/><rect x="756" y="382" fill="#444fbd"/><rect x="762" y="382" fill="#444ebc"/><rect x="768" y="382" fill="#434cbc"/><rect x="774" y="382" fill="#434cbb"/><rect x="780" y="382" fill="#454bba"/><rect x="786" y="382" fill="#494bb9"/><rect x="792" y="382" fill="#4c4aba"/><rect x="798" y="382" fill="#5149ba"/><rect x="804" y="382" fill="#5d47b7"/><rect x="810" y="382" fill="#8847ae"/><rect x="816" y="382" fill="#b9479c"/><rect x="822" y="382" fill="#e23e83"/><rect x="828" y="382" fill="#eb357c"/><rect x="834" y="382" fill="#ee2871"/><rect x="840" y="382" fill="#ef2772"/><rect x="846" y="382" fill="#ed1e6c"/><rect x="852" y="382" fill="#eb1865"/><rect x="858" y="382" fill="#e7155e"/><rect x="864" y="382" fill="#e31155"/><rect x="870" y="382" fill="#e10d4d"/><rect x="876" y="382" fill="#e20b48"/><rect x="882" y="382" fill="#e30844"/><rect x="888" y="382" fill="#e20641"/><rect x="894" y="382" fill="#e1043e"/><rect x="900" y="382" fill="#df033b"/><rect x="906" y="382" fill="#de0338"/><rect x="912" y="382" fill="#dc0336"/><rect x="918" y="382" fill="#da0234"/><rect x="924" y="382" fill="#d90131"/><rect x="930" y="382" fill="#d9002f"/><rect x="936" y="382" fill="#d8002d"/><rect x="942" y="382" fill="#d8002b"/><rect x="948" y="382" fill="#d70029"/><rect x="954" y="382" fill="#d70028"/><rect x="960" y="382" fill="#d60027"/><rect x="966" y="382" fill="#d60026"/><rect x="732" y="388" fill="#314fbe"/><rect x="738" y="388" fill="#364ebe"/><rect x="744" y="388" fill="#3a4ebd"/><rect x="750" y="388" fill="#3f4dbd"/><rect x="756" y="388" fill="#434dbc"/><rect x="762" y="388" fill="#444cbb"/><rect x="768" y="388" fill="#444aba"/><rect x="774" y="388" fill="#4449b9"/><rect x="780" y="388" fill="#4547b8"/><rect x="786" y="388" fill="#4746b7"/><rect x="792" y="388" fill="#4a44b6"/><rect x="798" y="388" fill="#5140b3"/><rect x="804" y="388" fill="#633bad"/><rect x="810" y="388" fill="#8736a0"/><rect x="816" y="388" fill="#b02f8d"/><rect x="822" y="388" fill="#d32679"/><rect x="828" y="388" fill="#e31d6c"/><rect x="834" y="388" fill="#e91665"/><rect x="840" y="388" fill="#eb1564"/><rect x="846" y="388" fill="#ea1261"/><rect x="852" y="388" fill="#e8105c"/><rect x="858" y="388" fill="#e50e57"/><rect x="864" y="388" fill="#e20b50"/><rect x="870" y="388" fill="#e0094a"/><rect x="876" y="388" fill="#e00746"/><rect x="882" y="388" fill="#e00542"/><rect x="888" y="388" fill="#e0033f"/><rect x="894" y="388" fill="#df023c"/><rect x="900" y="388" fill="#de013a"/><rect x="906" y="388" fill="#dc0037"/><rect x="912" y="388" fill="#db0035"/><rect x="918" y="388" fill="#da0033"/><rect x="924" y="388" fill="#d90031"/><rect x="930" y="388" fill="#d8002f"/><rect x="936" y="388" fill="#d7002d"/><rect x="942" y="388" fill="#d7002b"/><rect x="948" y="388" fill="#d6002a"/><rect x="954" y="388" fill="#d60028"/><rect x="738" y="394" fill="#364dbd"/><rect x="744" y="394" fill="#3b4cbc"/><rect x="750" y="394" fill="#3e4cbb"/><rect x="756" y="394" fill="#424bba"/><rect x="762" y="394" fill="#4349b9"/><rect x="768" y="394" fill="#4448b8"/><rect x="774" y="394" fill="#4446b7"/><rect x="780" y="394" fill="#4545b6"/><rect x="786" y="394" fill="#4643b5"/><rect x="792" y="394" fill="#4a40b3"/><rect x="798" y="394" fill="#533db0"/><rect x="804" y="394" fill="#6737a8"/><rect x="810" y="394" fill="#88309a"/><rect x="816" y="394" fill="#ad2688"/><rect x="822" y="394" fill="#cb1d76"/><rect x="828" y="394" fill="#dd156a"/><rect x="834" y="394" fill="#e41062"/><rect x="840" y="394" fill="#e60e5f"/><rect x="846" y="394" fill="#e60d5b"/><rect x="852" y="394" fill="#e40c58"/><rect x="858" y="394" fill="#e20b53"/><rect x="864" y="394" fill="#e0094e"/><rect x="870" y="394" fill="#df0749"/><rect x="876" y="394" fill="#de0445"/><rect x="882" y="394" fill="#de0241"/><rect x="888" y="394" fill="#de013e"/><rect x="894" y="394" fill="#dd003b"/><rect x="900" y="394" fill="#dc0039"/><rect x="906" y="394" fill="#db0037"/><rect x="912" y="394" fill="#da0035"/><rect x="918" y="394" fill="#d90033"/><rect x="924" y="394" fill="#d80031"/><rect x="930" y="394" fill="#d7002f"/><rect x="936" y="394" fill="#d7002d"/><rect x="942" y="394" fill="#d6002c"/><rect x="738" y="400" fill="#374cbc"/><rect x="744" y="400" fill="#3a4bbb"/><rect x="750" y="400" fill="#3e4aba"/><rect x="756" y="400" fill="#4149b9"/><rect x="762" y="400" fill="#4347b7"/><rect x="768" y="400" fill="#4446b6"/><rect x="774" y="400" fill="#4544b5"/><rect x="780" y="400" fill="#4543b4"/><rect x="786" y="400" fill="#4741b3"/><rect x="792" y="400" fill="#4a3fb2"/><rect x="798" y="400" fill="#523daf"/><rect x="804" y="400" fill="#6538a8"/><rect x="810" y="400" fill="#872f99"/><rect x="816" y="400" fill="#ae2486"/><rect x="822" y="400" fill="#cc1a75"/><rect x="828" y="400" fill="#db1369"/><rect x="834" y="400" fill="#e00f62"/><rect x="840" y="400" fill="#e10d5e"/><rect x="846" y="400" fill="#e10c5a"/><rect x="852" y="400" fill="#e10c56"/><rect x="858" y="400" fill="#df0b52"/><rect x="864" y="400" fill="#de094e"/><rect x="870" y="400" fill="#dd0649"/><rect x="876" y="400" fill="#dd0345"/><rect x="882" y="400" fill="#dc0141"/><rect x="888" y="400" fill="#dc003e"/><rect x="894" y="400" fill="#db003b"/><rect x="900" y="400" fill="#da0039"/><rect x="906" y="400" fill="#da0037"/><rect x="912" y="400" fill="#d90035"/><rect x="918" y="400" fill="#d80033"/><rect x="924" y="400" fill="#d70031"/><rect x="930" y="400" fill="#d6002f"/><rect x="738" y="406" fill="#374bbb"/><rect x="744" y="406" fill="#3a4aba"/><rect x="750" y="406" fill="#3d48b9"/><rect x="756" y="406" fill="#4047b7"/><rect x="762" y="406" fill="#4346b6"/><rect x="768" y="406" fill="#4544b4"/><rect x="774" y="406" fill="#4643b3"/><rect x="780" y="406" fill="#4741b2"/><rect x="786" y="406" fill="#4840b1"/><rect x="792" y="406" fill="#4b3fb0"/><rect x="798" y="406" fill="#503eaf"/><rect x="804" y="406" fill="#5d3bab"/><rect x="810" y="406" fill="#87309b"/><rect x="816" y="406" fill="#b22386"/><rect x="822" y="406" fill="#d51872"/><rect x="828" y="406" fill="#d9136a"/><rect x="834" y="406" fill="#da0f64"/><rect x="840" y="406" fill="#db0e5f"/><rect x="846" y="406" fill="#dc0d5a"/><rect x="852" y="406" fill="#dc0e56"/><rect x="858" y="406" fill="#dc0d53"/><rect x="864" y="406" fill="#dc094e"/><rect x="870" y="406" fill="#db0549"/><rect x="876" y="406" fill="#db0245"/><rect x="882" y="406" fill="#db0042"/><rect x="888" y="406" fill="#da003e"/><rect x="894" y="406" fill="#da003c"/><rect x="900" y="406" fill="#d90039"/><rect x="906" y="406" fill="#d80037"/><rect x="912" y="406" fill="#d80035"/><rect x="918" y="406" fill="#d70033"/><rect x="744" y="412" fill="#3a48b9"/><rect x="750" y="412" fill="#3d47b8"/><rect x="756" y="412" fill="#4046b6"/><rect x="762" y="412" fill="#4344b4"/><rect x="768" y="412" fill="#4643b2"/><rect x="774" y="412" fill="#4841b0"/><rect x="780" y="412" fill="#4940b0"/><rect x="786" y="412" fill="#4b3faf"/><rect x="792" y="412" fill="#4f3dad"/><rect x="798" y="412" fill="#563cab"/><rect x="804" y="412" fill="#6837a5"/><rect x="810" y="412" fill="#8b2e97"/><rect x="816" y="412" fill="#b12285"/><rect x="822" y="412" fill="#cb1975"/><rect x="828" y="412" fill="#d1146d"/><rect x="834" y="412" fill="#d11168"/><rect x="840" y="412" fill="#d30f62"/><rect x="846" y="412" fill="#d60e5b"/><rect x="852" y="412" fill="#d80d57"/><rect x="858" y="412" fill="#d90c53"/><rect x="864" y="412" fill="#d9084f"/><rect x="870" y="412" fill="#d9054a"/><rect x="876" y="412" fill="#d90246"/><rect x="882" y="412" fill="#d90042"/><rect x="888" y="412" fill="#d8003f"/><rect x="894" y="412" fill="#d8003c"/><rect x="900" y="412" fill="#d7003a"/><rect x="906" y="412" fill="#d70038"/><rect x="744" y="418" fill="#3a47b8"/><rect x="750" y="418" fill="#3d46b7"/><rect x="756" y="418" fill="#4045b5"/><rect x="762" y="418" fill="#4343b3"/><rect x="768" y="418" fill="#4742b0"/><rect x="774" y="418" fill="#4a40af"/><rect x="780" y="418" fill="#4a3fae"/><rect x="786" y="418" fill="#4d3ead"/><rect x="792" y="418" fill="#543baa"/><rect x="798" y="418" fill="#5e39a7"/><rect x="804" y="418" fill="#7233a0"/><rect x="810" y="418" fill="#912a92"/><rect x="816" y="418" fill="#b02082"/><rect x="822" y="418" fill="#c41976"/><rect x="828" y="418" fill="#ca146f"/><rect x="834" y="418" fill="#c9126b"/><rect x="840" y="418" fill="#cc0f65"/><rect x="846" y="418" fill="#d00d5e"/><rect x="852" y="418" fill="#d30c58"/><rect x="858" y="418" fill="#d50953"/><rect x="864" y="418" fill="#d6074f"/><rect x="870" y="418" fill="#d7044b"/><rect x="876" y="418" fill="#d70147"/><rect x="882" y="418" fill="#d70043"/><rect x="888" y="418" fill="#d60040"/><rect x="894" y="418" fill="#d6003d"/><rect x="744" y="424" fill="#3947b7"/><rect x="750" y="424" fill="#3c45b6"/><rect x="756" y="424" fill="#3f44b4"/><rect x="762" y="424" fill="#4343b3"/><rect x="768" y="424" fill="#4642b1"/><rect x="774" y="424" fill="#4840af"/><rect x="780" y="424" fill="#4a3fae"/><rect x="786" y="424" fill="#4d3dad"/><rect x="792" y="424" fill="#523bab"/><rect x="798" y="424" fill="#5e38a7"/><rect x="804" y="424" fill="#75319e"/><rect x="810" y="424" fill="#97278e"/><rect x="816" y="424" fill="#b61d7d"/><rect x="822" y="424" fill="#c61672"/><rect x="828" y="424" fill="#ca136d"/><rect x="834" y="424" fill="#ca1069"/><rect x="840" y="424" fill="#cc0e64"/><rect x="846" y="424" fill="#ce0c5e"/><rect x="852" y="424" fill="#d00a59"/><rect x="858" y="424" fill="#d20854"/><rect x="864" y="424" fill="#d30550"/><rect x="870" y="424" fill="#d4024c"/><rect x="876" y="424" fill="#d40048"/><rect x="882" y="424" fill="#d40044"/><rect x="750" y="430" fill="#3c45b6"/><rect x="756" y="430" fill="#3f44b4"/><rect x="762" y="430" fill="#4143b3"/><rect x="768" y="430" fill="#4441b1"/><rect x="774" y="430" fill="#4640b0"/><rect x="780" y="430" fill="#483fae"/><rect x="786" y="430" fill="#4b3dad"/><rect x="792" y="430" fill="#4f3bab"/><rect x="798" y="430" fill="#5738a9"/><rect x="804" y="430" fill="#71319f"/><rect x="810" y="430" fill="#9b258c"/><rect x="816" y="430" fill="#c11875"/><rect x="822" y="430" fill="#cb136d"/><rect x="828" y="430" fill="#cb116a"/><rect x="834" y="430" fill="#cb0e67"/><rect x="840" y="430" fill="#cb0c63"/><rect x="846" y="430" fill="#cc0a5e"/><rect x="852" y="430" fill="#ce0859"/><rect x="858" y="430" fill="#cf0655"/><rect x="864" y="430" fill="#d10451"/><rect x="870" y="430" fill="#d1014d"/><rect x="750" y="436" fill="#3c44b5"/><rect x="756" y="436" fill="#3e43b4"/><rect x="762" y="436" fill="#4142b2"/><rect x="768" y="436" fill="#4341b1"/><rect x="774" y="436" fill="#4540b0"/><rect x="780" y="436" fill="#483fae"/><rect x="786" y="436" fill="#4b3dad"/><rect x="792" y="436" fill="#503aaa"/><rect x="798" y="436" fill="#5836a6"/><rect x="804" y="436" fill="#6f2f9c"/><rect x="810" y="436" fill="#97248a"/><rect x="816" y="436" fill="#b91877"/><rect x="822" y="436" fill="#c6136e"/><rect x="828" y="436" fill="#c8106a"/><rect x="834" y="436" fill="#c80e66"/><rect x="840" y="436" fill="#c90c62"/><rect x="846" y="436" fill="#ca095e"/><rect x="852" y="436" fill="#cb075a"/><rect x="858" y="436" fill="#cd0556"/><rect x="756" y="442" fill="#3e43b3"/><rect x="762" y="442" fill="#4142b2"/><rect x="768" y="442" fill="#4341b1"/><rect x="774" y="442" fill="#4640af"/><rect x="780" y="442" fill="#483eae"/><rect x="786" y="442" fill="#4d3cab"/><rect x="792" y="442" fill="#5339a7"/><rect x="798" y="442" fill="#5f34a1"/><rect x="804" y="442" fill="#742d97"/><rect x="810" y="442" fill="#91248a"/><rect x="816" y="442" fill="#aa1b7c"/><rect x="822" y="442" fill="#b91572"/><rect x="828" y="442" fill="#c0116c"/><rect x="834" y="442" fill="#c30e67"/><rect x="840" y="442" fill="#c50b63"/><rect x="846" y="442" fill="#c6095f"/><rect x="762" y="448" fill="#4141b2"/><rect x="768" y="448" fill="#4440b0"/><rect x="774" y="448" fill="#473faf"/><rect x="780" y="448" fill="#4a3eac"/><rect x="786" y="448" fill="#4f3caa"/><rect x="792" y="448" fill="#5837a5"/><rect x="798" y="448" fill="#65329e"/><rect x="804" y="448" fill="#772b94"/><rect x="810" y="448" fill="#8c2389"/><rect x="816" y="448" fill="#9f1c7f"/><rect x="822" y="448" fill="#ae1675"/><rect x="828" y="448" fill="#b6126f"/><rect x="834" y="448" fill="#bc0e69"/><rect x="762" y="454" fill="#4240b1"/><rect x="768" y="454" fill="#4540af"/><rect x="774" y="454" fill="#493ead"/><rect x="780" y="454" fill="#4d3cab"/><rect x="786" y="454" fill="#533aa7"/><rect x="792" y="454" fill="#5d35a2"/><rect x="798" y="454" fill="#69309b"/><rect x="804" y="454" fill="#782a93"/><rect x="810" y="454" fill="#882389"/><rect x="816" y="454" fill="#981d80"/><rect x="822" y="454" fill="#a51878"/><rect x="768" y="460" fill="#473fae"/><rect x="774" y="460" fill="#4b3dac"/><rect x="780" y="460" fill="#503ba9"/><rect x="786" y="460" fill="#5738a5"/><rect x="792" y="460" fill="#60339f"/><rect x="798" y="460" fill="#6b2e99"/><rect x="804" y="460" fill="#782991"/><rect x="810" y="460" fill="#862389"/></g>
<g stroke="#1a2a1a" stroke-width="0.8" opacity="0.09"><line x1="713.8" y1="29" x2="712.9" y2="478.3"/><line x1="758.1" y1="29" x2="757.1" y2="478.3"/><line x1="802.4" y1="29" x2="801.3" y2="478.3"/><line x1="846.7" y1="29" x2="845.5" y2="478.3"/><line x1="891.0" y1="29" x2="889.7" y2="478.3"/><line x1="935.2" y1="29" x2="933.9" y2="478.3"/><line x1="979.5" y1="29" x2="978.1" y2="478.3"/><line x1="1023.8" y1="29" x2="1022.3" y2="478.3"/><line x1="698.7" y1="455.2" x2="1064" y2="455.8"/><line x1="698.7" y1="407.8" x2="1064" y2="408.4"/><line x1="698.7" y1="360.4" x2="1064" y2="361.0"/><line x1="698.7" y1="313.0" x2="1064" y2="313.6"/><line x1="698.7" y1="265.6" x2="1064" y2="266.2"/><line x1="698.7" y1="218.2" x2="1064" y2="218.8"/><line x1="698.7" y1="170.8" x2="1064" y2="171.4"/><line x1="698.7" y1="123.4" x2="1064" y2="124.0"/><line x1="698.7" y1="76.0" x2="1064" y2="76.6"/></g>
<path d="M815.8 342.2 L823.2 331.1 L833.9 316.5 L840.3 308.7 L848.4 299.8 L862.3 286.5 L877.9 274.6 L888.0 268.0 L900.9 261.7 L917.3 257.1 L927.5 256.5 L937.6 257.3 L949.6 260.8 L961.8 266.9 L975.8 277.8" fill="none" stroke="#3a3a3a" stroke-width="1.2" opacity="0.8"/>
<path d="M865.2 290.0 L859.4 283.1 M859.8 296.8 L851.6 288.1 M854.8 303.2 L844.8 293.4 M848.6 308.4 L839.6 300.4 M842.2 314.2 L834.5 307.8" fill="none" stroke="#3a3a3a" stroke-width="1.2" opacity="0.6"/>
<path d="M812.5 351 L824 334 L837 315" fill="none" stroke="#444" stroke-width="2.6" stroke-dasharray="1.4 1.2" opacity="0.55"/>
</g></g>
<g fill="none" stroke="#ddd" stroke-width="1" opacity="0.55"><path d="M1027 312L1049 331L1048 350L1026 372L1022 372"/></g>
<g fill="#e8e8e0" opacity="0.6"><rect x="981.0" y="176.0" width="16.0" height="2.2" opacity="0.90"/><rect x="999.0" y="176.0" width="14.0" height="2.2" opacity="0.70"/><rect x="981.0" y="181.4" width="16.0" height="2.2" opacity="0.90"/><rect x="999.0" y="181.4" width="14.0" height="2.2" opacity="0.70"/><rect x="981.0" y="186.8" width="16.0" height="2.2" opacity="0.90"/><rect x="999.0" y="186.8" width="14.0" height="2.2" opacity="0.70"/><rect x="981.0" y="192.2" width="16.0" height="2.2" opacity="0.30"/><rect x="999.0" y="192.2" width="14.0" height="2.2" opacity="0.70"/><rect x="981.0" y="197.6" width="16.0" height="2.2" opacity="0.90"/><rect x="999.0" y="197.6" width="14.0" height="2.2" opacity="0.70"/><rect x="981.0" y="203.0" width="16.0" height="2.2" opacity="0.90"/><rect x="999.0" y="203.0" width="14.0" height="2.2" opacity="0.70"/><rect x="981.0" y="208.4" width="16.0" height="2.2" opacity="0.90"/><rect x="999.0" y="208.4" width="14.0" height="2.2" opacity="0.70"/><rect x="937.0" y="198.0" width="17.0" height="2.0" opacity="0.80"/><rect x="938.0" y="202.5" width="11.0" height="2.0" opacity="0.70"/><rect x="1001.0" y="370.0" width="21.0" height="2.2" opacity="0.90"/><rect x="1006.0" y="374.0" width="14.0" height="2.0" opacity="0.70"/><rect x="904.0" y="433.5" width="56.0" height="2.6" opacity="0.55"/><rect x="816.7" y="446.0" width="1.8" height="8.0" opacity="0.80"/><rect x="816.7" y="456.5" width="1.8" height="7.0" opacity="0.60"/><rect x="824.2" y="446.0" width="1.8" height="8.0" opacity="0.80"/><rect x="824.2" y="456.5" width="1.8" height="7.0" opacity="0.60"/><rect x="836.2" y="446.0" width="1.8" height="8.0" opacity="0.80"/><rect x="836.2" y="456.5" width="1.8" height="7.0" opacity="0.60"/><rect x="850.2" y="446.0" width="1.8" height="8.0" opacity="0.80"/><rect x="850.2" y="456.5" width="1.8" height="7.0" opacity="0.60"/><rect x="865.2" y="446.0" width="1.8" height="8.0" opacity="0.80"/><rect x="865.2" y="456.5" width="1.8" height="7.0" opacity="0.60"/><rect x="887.2" y="446.0" width="1.8" height="8.0" opacity="0.80"/><rect x="887.2" y="456.5" width="1.8" height="7.0" opacity="0.60"/><rect x="908.9" y="446.0" width="1.8" height="8.0" opacity="0.80"/><rect x="908.9" y="456.5" width="1.8" height="7.0" opacity="0.60"/><rect x="929.5" y="446.0" width="1.8" height="8.0" opacity="0.80"/><rect x="929.5" y="456.5" width="1.8" height="7.0" opacity="0.60"/><rect x="950.2" y="446.0" width="1.8" height="8.0" opacity="0.80"/><rect x="950.2" y="456.5" width="1.8" height="7.0" opacity="0.60"/><rect x="995.2" y="446.0" width="1.8" height="8.0" opacity="0.80"/><rect x="995.2" y="456.5" width="1.8" height="7.0" opacity="0.60"/><rect x="1011.2" y="446.0" width="1.8" height="8.0" opacity="0.80"/><rect x="1011.2" y="456.5" width="1.8" height="7.0" opacity="0.60"/><rect x="738.5" y="446.5" width="16.0" height="2.2" opacity="0.80"/><rect x="739.0" y="451.5" width="10.0" height="2.2" opacity="0.80"/><rect x="744.0" y="398.0" width="5.0" height="2.0" opacity="0.75"/><rect x="757.0" y="430.0" width="5.0" height="2.0" opacity="0.75"/><rect x="766.0" y="444.0" width="5.0" height="2.0" opacity="0.75"/><rect x="778.0" y="455.0" width="5.0" height="2.0" opacity="0.75"/><rect x="785.0" y="461.0" width="5.0" height="2.0" opacity="0.75"/><rect x="792.0" y="465.0" width="5.0" height="2.0" opacity="0.75"/><rect x="705.0" y="184.0" width="5.0" height="2.0" opacity="0.75"/><rect x="706.0" y="279.0" width="5.0" height="2.0" opacity="0.75"/><rect x="708.0" y="110.0" width="5.0" height="2.0" opacity="0.75"/><rect x="838.0" y="104.0" width="4.0" height="1.8" opacity="0.60"/><rect x="872.0" y="139.0" width="4.0" height="1.8" opacity="0.60"/><rect x="903.0" y="171.0" width="4.0" height="1.8" opacity="0.60"/><rect x="923.0" y="194.0" width="4.0" height="1.8" opacity="0.60"/><rect x="945.0" y="219.0" width="4.0" height="1.8" opacity="0.60"/><rect x="962.0" y="241.0" width="4.0" height="1.8" opacity="0.60"/><rect x="980.0" y="262.0" width="4.0" height="1.8" opacity="0.60"/><rect x="997.0" y="283.0" width="4.0" height="1.8" opacity="0.60"/><rect x="1012.0" y="300.0" width="4.0" height="1.8" opacity="0.60"/><rect x="1028.0" y="309.0" width="4.0" height="1.8" opacity="0.60"/><rect x="1036.0" y="317.0" width="4.0" height="1.8" opacity="0.60"/><rect x="1042.0" y="325.0" width="4.0" height="1.8" opacity="0.60"/></g>
</g>
<rect x="684" y="17" width="203.4" height="26.6" fill="#fff"/>
<g font-family="'Liberation Mono',monospace" font-weight="bold" font-size="21.2px" filter="url(#soft2)">
<text x="685.2" y="35.5" fill="#000" stroke="#000" stroke-width="0.4" transform="translate(0 35.5) scale(1 0.86) translate(0 -35.5)">CIE1931 EVERFINE</text>
<text x="776" y="65.5" fill="#fff" xml:space="preserve">x = 0.3839 y = 0.3788</text>
<text x="886.5" y="97.5" fill="#fff" xml:space="preserve">CCT = 3922K</text>
</g>
<g font-family="'Liberation Sans',sans-serif" font-style="italic" font-size="7px" fill="#555" filter="url(#soft2)"><text x="712.4" y="490" text-anchor="middle">0</text><text x="756.6" y="490" text-anchor="middle">.1</text><text x="800.8" y="490" text-anchor="middle">.2</text><text x="845.0" y="490" text-anchor="middle">.3</text><text x="889.2" y="490" text-anchor="middle">.4</text><text x="890.5" y="25" text-anchor="middle">.4</text><text x="933.4" y="490" text-anchor="middle">.5</text><text x="934.8" y="25" text-anchor="middle">.5</text><text x="977.6" y="490" text-anchor="middle">.6</text><text x="979.0" y="25" text-anchor="middle">.6</text><text x="1021.8" y="490" text-anchor="middle">.7</text><text x="1023.3" y="25" text-anchor="middle">.7</text><text x="1066.0" y="490" text-anchor="middle">.8</text><text x="1067.6" y="25" text-anchor="middle">.8</text><text x="691" y="457.9" text-anchor="middle">0</text><text x="1069.5" y="458.2" text-anchor="middle">0</text><text x="691" y="410.5" text-anchor="middle">.1</text><text x="1069.5" y="410.8" text-anchor="middle">.1</text><text x="691" y="363.1" text-anchor="middle">.2</text><text x="1069.5" y="363.4" text-anchor="middle">.2</text><text x="691" y="315.7" text-anchor="middle">.3</text><text x="1069.5" y="316.0" text-anchor="middle">.3</text><text x="691" y="268.3" text-anchor="middle">.4</text><text x="1069.5" y="268.6" text-anchor="middle">.4</text><text x="691" y="220.9" text-anchor="middle">.5</text><text x="1069.5" y="221.2" text-anchor="middle">.5</text><text x="691" y="173.5" text-anchor="middle">.6</text><text x="1069.5" y="173.8" text-anchor="middle">.6</text><text x="691" y="126.1" text-anchor="middle">.7</text><text x="1069.5" y="126.4" text-anchor="middle">.7</text><text x="691" y="78.7" text-anchor="middle">.8</text><text x="1069.5" y="79.0" text-anchor="middle">.8</text><text x="1045" y="490" text-anchor="middle">x</text><text x="691" y="56" text-anchor="middle">y</text></g>
<g fill="#000"><rect x="866.6" y="272.4" width="24" height="2"/><rect x="877.6" y="261.4" width="2" height="24"/></g>
</g>

<polygon points="86.5,445.0 86.5,442.2 87.9,442.2 89.3,442.2 90.7,442.2 92.2,442.2 93.6,442.2 95.0,442.2 96.4,442.2 97.8,442.2 99.2,442.2 100.7,442.2 102.1,442.2 103.5,442.2 104.9,442.2 106.3,442.2 107.7,442.2 109.2,442.2 110.6,442.2 112.0,442.2 113.4,442.1 114.8,442.1 116.2,442.0 117.7,442.0 119.1,441.9 120.5,441.8 121.9,441.6 123.3,441.4 124.7,441.1 126.2,440.8 127.6,440.4 129.0,439.9 130.4,439.3 131.8,438.6 133.2,438.0 134.7,437.2 136.1,436.3 137.5,435.4 138.9,434.4 140.3,433.2 141.7,431.8 143.2,430.1 144.6,428.2 146.0,426.1 147.4,423.7 148.8,421.0 150.2,418.2 151.6,415.3 153.1,412.0 154.5,408.3 155.9,403.6 157.3,397.7 158.7,391.2 160.1,384.4 161.6,377.9 163.0,371.5 164.4,364.6 165.8,356.6 167.2,347.3 168.6,335.7 170.1,319.0 171.5,296.0 172.9,275.3 174.3,255.6 175.7,236.0 177.1,215.5 178.6,193.9 180.0,173.5 181.4,156.9 182.8,143.1 184.2,128.3 185.6,118.0 187.1,115.6 188.5,122.7 189.9,133.9 191.3,147.0 192.7,161.7 194.1,177.5 195.6,194.7 197.0,211.7 198.4,226.7 199.8,239.5 201.2,251.4 202.6,262.6 204.0,272.9 205.5,282.4 206.9,291.2 208.3,298.7 209.7,304.9 211.1,310.4 212.5,315.7 214.0,321.1 215.4,326.7 216.8,332.4 218.2,337.9 219.6,343.3 221.0,348.6 222.5,353.5 223.9,358.0 225.3,361.0 226.7,362.3 228.1,362.2 229.5,361.5 231.0,360.1 232.4,358.5 233.8,356.6 235.2,354.6 236.6,352.4 238.0,349.9 239.5,347.2 240.9,344.2 242.3,341.1 243.7,337.9 245.1,334.3 246.5,330.5 248.0,326.5 249.4,322.5 250.8,318.5 252.2,314.4 253.6,310.2 255.0,306.1 256.4,302.0 257.9,298.1 259.3,294.2 260.7,290.5 262.1,287.0 263.5,283.5 264.9,280.0 266.4,276.6 267.8,273.4 269.2,270.3 270.6,267.5 272.0,264.9 273.4,262.7 274.9,260.7 276.3,258.8 277.7,257.0 279.1,255.4 280.5,253.8 281.9,252.4 283.4,251.1 284.8,249.8 286.2,248.6 287.6,247.5 289.0,246.5 290.4,245.5 291.9,244.5 293.3,243.6 294.7,242.8 296.1,242.1 297.5,241.3 298.9,240.7 300.4,240.0 301.8,239.3 303.2,238.5 304.6,237.6 306.0,236.7 307.4,235.6 308.9,234.5 310.3,233.4 311.7,232.3 313.1,231.2 314.5,230.1 315.9,229.1 317.3,228.1 318.8,227.1 320.2,225.9 321.6,224.8 323.0,223.5 324.4,222.2 325.8,220.8 327.3,219.4 328.7,218.0 330.1,216.5 331.5,215.0 332.9,213.4 334.3,211.8 335.8,210.3 337.2,208.7 338.6,207.1 340.0,205.4 341.4,203.8 342.8,202.2 344.3,200.5 345.7,198.8 347.1,197.0 348.5,195.2 349.9,193.4 351.3,191.6 352.8,189.8 354.2,188.0 355.6,186.2 357.0,184.5 358.4,182.8 359.8,181.2 361.3,179.7 362.7,178.2 364.1,176.8 365.5,175.4 366.9,174.0 368.3,172.6 369.8,171.0 371.2,169.6 372.6,168.2 374.0,167.0 375.4,166.0 376.8,165.0 378.2,164.0 379.7,163.1 381.1,162.3 382.5,161.6 383.9,161.0 385.3,160.4 386.7,159.9 388.2,159.5 389.6,159.1 391.0,158.9 392.4,158.7 393.8,158.6 395.2,158.5 396.7,158.6 398.1,158.9 399.5,159.3 400.9,159.8 402.3,160.3 403.7,161.0 405.2,161.8 406.6,162.7 408.0,163.9 409.4,165.3 410.8,166.9 412.2,168.8 413.7,170.7 415.1,172.7 416.5,174.7 417.9,176.7 419.3,178.8 420.7,180.9 422.2,183.2 423.6,185.6 425.0,188.1 426.4,190.9 427.8,193.9 429.2,197.0 430.6,200.4 432.1,203.8 433.5,207.2 434.9,210.7 436.3,214.1 437.7,217.3 439.1,220.5 440.6,223.6 442.0,226.7 443.4,229.8 444.8,232.9 446.2,235.9 447.6,239.0 449.1,242.0 450.5,245.0 451.9,248.1 453.3,251.1 454.7,254.0 456.1,257.0 457.6,260.0 459.0,262.9 460.4,265.9 461.8,268.8 463.2,271.8 464.6,274.8 466.1,277.7 467.5,280.7 468.9,283.7 470.3,286.6 471.7,289.6 473.1,292.6 474.6,295.6 476.0,298.6 477.4,301.6 478.8,304.7 480.2,307.7 481.6,310.9 483.1,314.0 484.5,317.2 485.9,320.3 487.3,323.5 488.7,326.5 490.1,329.6 491.5,332.6 493.0,335.5 494.4,338.4 495.8,341.2 497.2,343.9 498.6,346.5 500.0,349.1 501.5,351.6 502.9,354.1 504.3,356.6 505.7,359.0 507.1,361.4 508.5,363.7 510.0,366.0 511.4,368.2 512.8,370.5 514.2,372.7 515.6,374.9 517.0,376.9 518.5,378.9 519.9,380.9 521.3,382.8 522.7,384.6 524.1,386.5 525.5,388.2 527.0,389.9 528.4,391.5 529.8,393.0 531.2,394.4 532.6,395.8 534.0,397.1 535.5,398.4 536.9,399.6 538.3,400.8 539.7,402.0 541.1,403.1 542.5,404.2 543.9,405.3 545.4,406.5 546.8,407.6 548.2,408.7 549.6,409.9 551.0,411.0 552.4,412.1 553.9,413.2 555.3,414.2 556.7,415.2 558.1,416.2 559.5,417.1 560.9,418.0 562.4,418.9 563.8,419.7 565.2,420.5 566.6,421.3 568.0,422.0 569.4,422.8 570.9,423.5 572.3,424.2 573.7,424.9 575.1,425.5 576.5,426.2 577.9,426.8 579.4,427.4 580.8,427.9 582.2,428.5 583.6,429.0 585.0,429.5 586.4,430.0 587.9,430.5 589.3,431.0 590.7,431.5 592.1,432.0 593.5,432.4 594.9,432.9 596.4,433.3 597.8,433.7 599.2,434.1 600.6,434.5 602.0,434.9 603.4,435.2 604.8,435.5 606.3,435.8 607.7,436.1 609.1,436.3 610.5,436.6 611.9,436.8 613.3,437.0 614.8,437.2 616.2,437.4 617.6,437.6 619.0,437.8 620.4,438.0 621.8,438.2 623.3,438.4 624.7,438.5 626.1,438.7 627.5,438.8 628.9,439.0 630.3,439.1 631.8,439.3 633.2,439.4 634.6,439.5 636.0,439.7 637.4,439.8 638.8,439.9 640.3,440.0 641.7,440.2 643.1,440.3 644.5,440.4 645.9,440.5 647.3,440.6 648.8,440.7 650.2,440.8 651.6,440.8 653.0,440.9 653.0,445.0" fill="url(#sp)"/>
<g class="ax">
<rect x="86" y="54" width="1" height="391"/>
<rect x="86" y="444" width="568" height="1"/>
<rect x="80" y="444" width="6" height="1"/><rect x="80" y="379" width="6" height="1"/><rect x="80" y="314" width="6" height="1"/><rect x="80" y="249" width="6" height="1"/><rect x="80" y="184" width="6" height="1"/><rect x="80" y="119" width="6" height="1"/><rect x="80" y="54" width="6" height="1"/><rect x="86" y="444" width="1" height="5"/><rect x="228" y="444" width="1" height="5"/><rect x="369" y="444" width="1" height="5"/><rect x="511" y="444" width="1" height="5"/><rect x="653" y="444" width="1" height="5"/>
</g>
<g class="lbl">
<text x="30.8" y="41">Spectrum</text>
<text x="392.5" y="45.5">1.0=111.556mW/nm</text>
<text x="369" y="483.5" text-anchor="middle">Wavelength(nm)</text>
<text x="78" y="450.0" text-anchor="end">0.0</text><text x="78" y="385.0" text-anchor="end">0.2</text><text x="78" y="320.0" text-anchor="end">0.4</text><text x="78" y="255.0" text-anchor="end">0.6</text><text x="78" y="190.0" text-anchor="end">0.8</text><text x="78" y="125.0" text-anchor="end">1.0</text><text x="78" y="60.0" text-anchor="end">1.2</text><text x="86.5" y="464.5" text-anchor="middle">380</text><text x="228.1" y="464.5" text-anchor="middle">480</text><text x="369.8" y="464.5" text-anchor="middle">580</text><text x="511.4" y="464.5" text-anchor="middle">680</text><text x="653.0" y="464.5" text-anchor="middle">780</text>
</g>
<!-- frames -->
<g shape-rendering="auto">
<rect x="31.2" y="15.2" width="3.2" height="478" fill="#7a7a7a"/>
<rect x="31.2" y="15.2" width="1043.6" height="2.1" fill="#000"/>
<rect x="31.2" y="491.3" width="1043.6" height="2.0" fill="#000"/>
<rect x="1073.4" y="15.2" width="1.4" height="478" fill="#000"/>
<rect x="682.3" y="17" width="1.7" height="475" fill="#aaa"/>
<rect x="683.9" y="43.6" width="1.5" height="448" fill="#000"/>
</g>
</svg>
</body></html>
